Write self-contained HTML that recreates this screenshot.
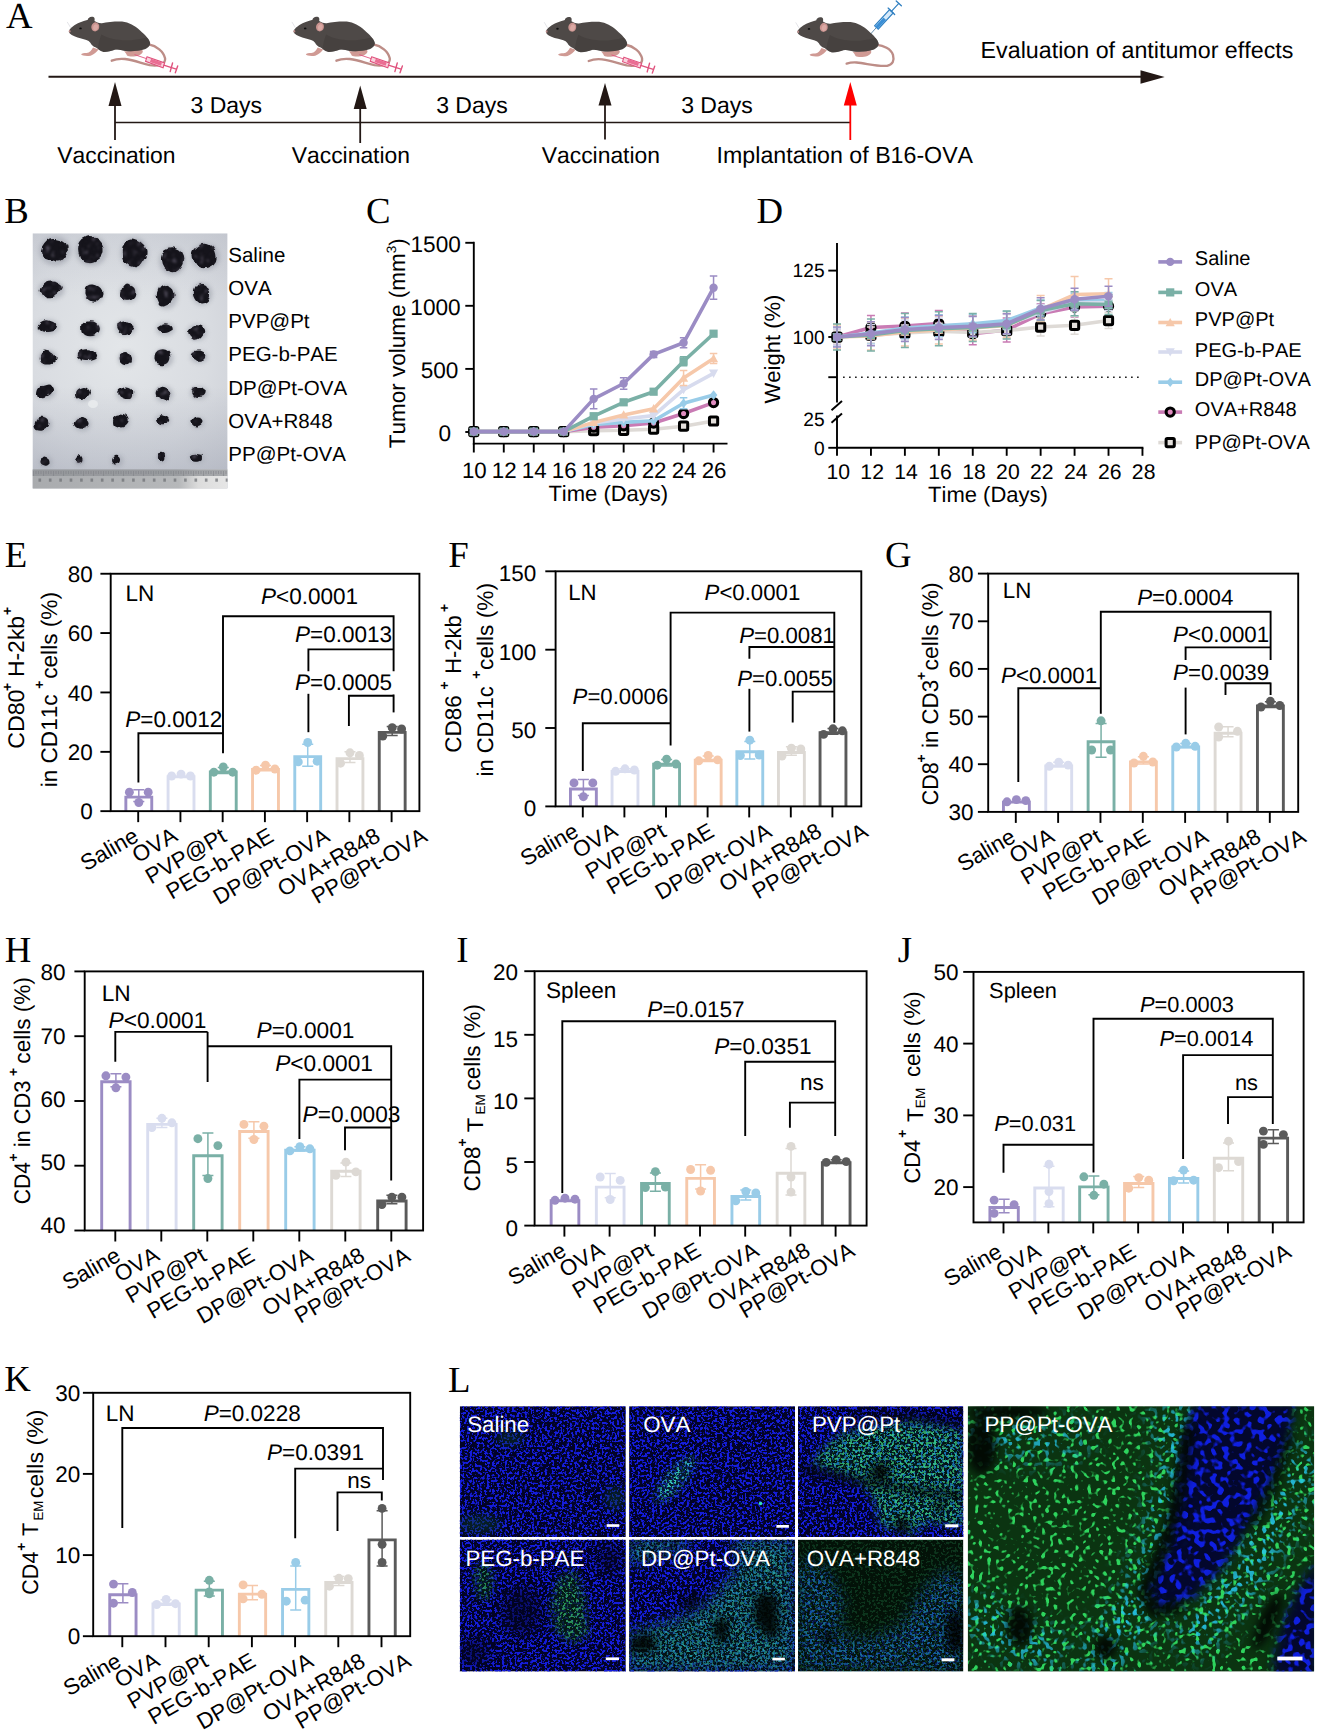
<!DOCTYPE html>
<html lang="en">
<head>
<meta charset="utf-8">
<title>Figure: vaccination schedule and antitumor immune responses</title>
<style>
html,body{margin:0;padding:0;background:#fff;}
body{width:1319px;height:1733px;overflow:hidden;}
svg{display:block;}
text{font-family:"Liberation Sans", Arial, Helvetica, sans-serif;fill:#000;font-kerning:none;text-rendering:geometricPrecision;}
text.lab{font-family:"Liberation Serif", "Times New Roman", Times, serif;}
.it{font-style:italic;}
</style>
</head>
<body>
<svg width="1319" height="1733" viewBox="0 0 1319 1733">
<defs>
<radialGradient id="bgB" cx="0.45" cy="0.45" r="0.75"><stop offset="0" stop-color="#e3e6e9"/><stop offset="0.6" stop-color="#d9dce1"/><stop offset="1" stop-color="#cbced5"/></radialGradient><linearGradient id="rulB" x1="0" x2="1" y1="0" y2="0"><stop offset="0" stop-color="#a9abae"/><stop offset="0.75" stop-color="#b6b8ba"/><stop offset="0.85" stop-color="#dcdcdc"/><stop offset="1" stop-color="#e6e6e6"/></linearGradient><linearGradient id="shB" x1="0" x2="0" y1="0" y2="1"><stop offset="0" stop-color="#7c8296" stop-opacity="0.12"/><stop offset="0.25" stop-color="#7c8296" stop-opacity="0"/><stop offset="0.6" stop-color="#7c8296" stop-opacity="0"/><stop offset="1" stop-color="#7c8296" stop-opacity="0.32"/></linearGradient><filter id="blB" x="-20%" y="-20%" width="140%" height="140%"><feGaussianBlur stdDeviation="0.7"/></filter><filter id="tumB" x="-5%" y="-5%" width="110%" height="110%" color-interpolation-filters="sRGB"><feTurbulence type="fractalNoise" baseFrequency="0.09" numOctaves="2" seed="4" result="n0"/><feTurbulence type="fractalNoise" baseFrequency="0.22" numOctaves="2" seed="8" result="n"/><feDisplacementMap in="SourceGraphic" in2="n0" scale="6" xChannelSelector="R" yChannelSelector="G" result="d"/><feGaussianBlur in="d" stdDeviation="0.75" result="db"/><feColorMatrix in="n" type="matrix" values="0 0 0 0 0.33  0 0 0 0 0.31  0 0 0 0 0.37  0 4 0 0 -2.25" result="hl"/><feComposite in="hl" in2="db" operator="in" result="hl2"/><feGaussianBlur in="hl2" stdDeviation="0.8" result="hl3"/><feMerge><feMergeNode in="db"/><feMergeNode in="hl3"/></feMerge></filter><filter id="blB2" x="-30%" y="-30%" width="160%" height="160%"><feGaussianBlur stdDeviation="2"/></filter><clipPath id="clB"><rect x="32.5" y="233.3" width="195.1" height="255.3"/></clipPath>
<filter id="nB1" x="0" y="0" width="100%" height="100%" color-interpolation-filters="sRGB"><feTurbulence type="fractalNoise" baseFrequency="0.4" numOctaves="2" seed="3"/><feGaussianBlur stdDeviation="0.55"/><feColorMatrix type="matrix" values="0 0 0 0 0.09  0 0 0 0 0.12  0 0 0 0 0.9  13 0 0 0 -6.6"/><feGaussianBlur stdDeviation="0.4"/></filter>
<filter id="nB2" x="0" y="0" width="100%" height="100%" color-interpolation-filters="sRGB"><feTurbulence type="fractalNoise" baseFrequency="0.4" numOctaves="2" seed="11"/><feGaussianBlur stdDeviation="0.55"/><feColorMatrix type="matrix" values="0 0 0 0 0.09  0 0 0 0 0.12  0 0 0 0 0.9  13 0 0 0 -6.6"/><feGaussianBlur stdDeviation="0.4"/></filter>
<filter id="nG1" x="0" y="0" width="100%" height="100%" color-interpolation-filters="sRGB"><feTurbulence type="fractalNoise" baseFrequency="0.38" numOctaves="2" seed="5"/><feGaussianBlur stdDeviation="0.55"/><feColorMatrix type="matrix" values="0 0 0 0 0.25  0 0 0 0 0.85  0 0 0 0 0.5  13 0 0 0 -7.0"/><feGaussianBlur stdDeviation="0.4"/></filter>
<filter id="nG2" x="0" y="0" width="100%" height="100%" color-interpolation-filters="sRGB"><feTurbulence type="fractalNoise" baseFrequency="0.4" numOctaves="2" seed="17"/><feGaussianBlur stdDeviation="0.55"/><feColorMatrix type="matrix" values="0 0 0 0 0.22  0 0 0 0 0.82  0 0 0 0 0.72  13 0 0 0 -6.95"/><feGaussianBlur stdDeviation="0.4"/></filter>
<filter id="nC1" x="0" y="0" width="100%" height="100%" color-interpolation-filters="sRGB"><feTurbulence type="fractalNoise" baseFrequency="0.38" numOctaves="2" seed="23"/><feGaussianBlur stdDeviation="0.55"/><feColorMatrix type="matrix" values="0 0 0 0 0.12  0 0 0 0 0.58  0 0 0 0 0.9  13 0 0 0 -6.9"/><feGaussianBlur stdDeviation="0.4"/></filter>
<filter id="nBb" x="0" y="0" width="100%" height="100%" color-interpolation-filters="sRGB"><feTurbulence type="fractalNoise" baseFrequency="0.17" numOctaves="2" seed="7"/><feGaussianBlur stdDeviation="1.0"/><feColorMatrix type="matrix" values="0 0 0 0 0.06  0 0 0 0 0.12  0 0 0 0 0.88  12 0 0 0 -6.1"/><feGaussianBlur stdDeviation="0.6"/></filter>
<filter id="nGb" x="0" y="0" width="100%" height="100%" color-interpolation-filters="sRGB"><feTurbulence type="fractalNoise" baseFrequency="0.24" numOctaves="2" seed="9"/><feGaussianBlur stdDeviation="0.8"/><feColorMatrix type="matrix" values="0 0 0 0 0.2  0 0 0 0 0.9  0 0 0 0 0.4  13 0 0 0 -7.1"/><feGaussianBlur stdDeviation="0.5"/></filter>
<filter id="nCb" x="0" y="0" width="100%" height="100%" color-interpolation-filters="sRGB"><feTurbulence type="fractalNoise" baseFrequency="0.24" numOctaves="2" seed="29"/><feGaussianBlur stdDeviation="0.8"/><feColorMatrix type="matrix" values="0 0 0 0 0.15  0 0 0 0 0.78  0 0 0 0 0.92  13 0 0 0 -6.85"/><feGaussianBlur stdDeviation="0.5"/></filter>
<filter id="bl4" x="-30%" y="-30%" width="160%" height="160%"><feGaussianBlur stdDeviation="4"/></filter>
<filter id="bl7" x="-30%" y="-30%" width="160%" height="160%"><feGaussianBlur stdDeviation="7"/></filter>
<filter id="bl12" x="-30%" y="-30%" width="160%" height="160%"><feGaussianBlur stdDeviation="12"/></filter>
<clipPath id="cl_sal"><rect x="459.8" y="1406.2" width="166" height="130.8"/></clipPath>
<clipPath id="cl_ova"><rect x="629.1" y="1406.2" width="165.9" height="130.8"/></clipPath>
<clipPath id="cl_pvp"><rect x="798" y="1406.2" width="165.4" height="130.8"/></clipPath>
<clipPath id="cl_peg"><rect x="459.8" y="1539.6" width="166" height="132"/></clipPath>
<clipPath id="cl_dp"><rect x="629.1" y="1539.6" width="165.9" height="132"/></clipPath>
<clipPath id="cl_r848"><rect x="798" y="1539.6" width="165.4" height="132"/></clipPath>
<clipPath id="cl_pp"><rect x="967.7" y="1406.2" width="346.6" height="265.4"/></clipPath>
<g id="mousebody">
<path d="M900 400 C980 415 1050 470 1066 540 C1075 600 1000 625 910 610 C820 590 760 560 660 548 C610 543 560 550 525 565" stroke="#bd8d87" stroke-width="24" fill="none" stroke-linecap="round"/>
<path d="M335 430 C320 460 300 482 270 486 C245 486 220 488 214 500 C220 515 270 520 310 514 C345 505 375 475 390 452 Z" fill="#d09a94"/>
<path d="M650 470 C700 470 780 462 830 452 C850 470 840 495 800 512 C760 525 700 525 680 512 C672 495 665 485 650 470 Z" fill="#d09a94"/>
<path d="M92 262 C100 235 150 200 200 178 C240 160 265 158 282 150 C285 128 310 112 340 122 C355 130 352 150 350 162 C380 178 400 186 425 184 C480 172 560 166 630 168 C700 176 760 212 810 255 C860 300 905 340 915 385 C915 420 880 445 850 452 C800 468 720 474 660 466 C620 458 590 446 560 452 C520 466 470 482 440 476 C400 466 385 445 365 432 C335 425 318 400 308 382 C290 358 250 348 215 340 C165 328 120 310 100 290 C92 280 90 272 92 262 Z" fill="#4e4947"/>
<path d="M420 300 C520 360 700 380 880 330 C905 350 915 375 912 395 C890 440 820 465 720 470 C620 465 600 440 540 458 C470 480 420 475 385 445 C390 400 400 350 420 300 Z" fill="#3f3b39" opacity="0.55"/>
<ellipse cx="358" cy="222" rx="40" ry="46" fill="#c9938f" transform="rotate(12 358 222)"/>
<ellipse cx="362" cy="226" rx="24" ry="32" fill="#dba9a4" transform="rotate(12 358 222)"/>
<ellipse cx="208" cy="238" rx="13" ry="9" fill="#0d0d0d"/>
<ellipse cx="98" cy="266" rx="9" ry="12" fill="#b98a88"/>
<path d="M75 175 L105 225" stroke="#e4e4e8" stroke-width="10" stroke-linecap="round"/>
</g>
<g id="syr_pink" stroke="#e0527d" fill="none" stroke-linecap="round">
<path d="M760 505 L880 545" stroke-width="9"/>
<path d="M882 526 L1062 588 L1046 636 L868 572 Z" stroke-width="11" fill="#f9d3de"/>
<path d="M925 546 L1035 584 L1024 616 L912 578 Z" stroke="none" fill="#ea6e93"/>
<path d="M1052 610 L1180 650" stroke-width="13"/>
<path d="M1142 588 L1118 676" stroke-width="14"/>
<path d="M1194 618 L1170 688" stroke-width="14"/>
</g>
<g id="mousebody_notail">
<path d="M335 430 C320 460 300 482 270 486 C245 486 220 488 214 500 C220 515 270 520 310 514 C345 505 375 475 390 452 Z" fill="#d09a94"/>
<path d="M650 470 C700 470 780 462 830 452 C850 470 840 495 800 512 C760 525 700 525 680 512 C672 495 665 485 650 470 Z" fill="#d09a94"/>
<path d="M92 262 C100 235 150 200 200 178 C240 160 265 158 282 150 C285 128 310 112 340 122 C355 130 352 150 350 162 C380 178 400 186 425 184 C480 172 560 166 630 168 C700 176 760 212 810 255 C860 300 905 340 915 385 C915 420 880 445 850 452 C800 468 720 474 660 466 C620 458 590 446 560 452 C520 466 470 482 440 476 C400 466 385 445 365 432 C335 425 318 400 308 382 C290 358 250 348 215 340 C165 328 120 310 100 290 C92 280 90 272 92 262 Z" fill="#4e4947"/>
<path d="M420 300 C520 360 700 380 880 330 C905 350 915 375 912 395 C890 440 820 465 720 470 C620 465 600 440 540 458 C470 480 420 475 385 445 C390 400 400 350 420 300 Z" fill="#3f3b39" opacity="0.55"/>
<ellipse cx="358" cy="222" rx="40" ry="46" fill="#c9938f" transform="rotate(12 358 222)"/>
<ellipse cx="362" cy="226" rx="24" ry="32" fill="#dba9a4" transform="rotate(12 358 222)"/>
<ellipse cx="208" cy="238" rx="13" ry="9" fill="#0d0d0d"/>
<ellipse cx="98" cy="266" rx="9" ry="12" fill="#b98a88"/>
<path d="M75 175 L105 225" stroke="#e4e4e8" stroke-width="10" stroke-linecap="round"/>
</g>
</defs>
<rect width="1319" height="1733" fill="#fff"/>
<text x="6" y="28.3" font-size="36.8" class="lab">A</text>
<line x1="48.5" y1="76.7" x2="1142" y2="76.7" stroke="#231815" stroke-width="1.9"/>
<path d="M1164.7 77 L1140.5 70.2 L1140.5 83.8 Z" fill="#231815"/>
<line x1="115" y1="122.5" x2="850.2" y2="122.5" stroke="#231815" stroke-width="1.7"/>
<path d="M115 82 L108.5 106 L121.5 106 Z" fill="#231815"/><line x1="115" y1="105" x2="115" y2="140" stroke="#231815" stroke-width="1.8"/>
<path d="M360.2 85.5 L353.7 109 L366.7 109 Z" fill="#231815"/><line x1="360.2" y1="108" x2="360.2" y2="143" stroke="#231815" stroke-width="1.8"/>
<path d="M605 83 L598.5 105.5 L611.5 105.5 Z" fill="#231815"/><line x1="605" y1="104.5" x2="605" y2="139.5" stroke="#231815" stroke-width="1.8"/>
<path d="M850.3 82 L843.8 105.5 L856.8 105.5 Z" fill="#ff0000"/><line x1="850.3" y1="104.5" x2="850.3" y2="140" stroke="#ff0000" stroke-width="1.8"/>
<text x="190.5" y="113" font-size="23">3 Days</text>
<text x="436.2" y="113" font-size="23">3 Days</text>
<text x="681.2" y="113" font-size="23">3 Days</text>
<text x="57.2" y="162.7" font-size="22.9">Vaccination</text>
<text x="291.7" y="162.7" font-size="22.9">Vaccination</text>
<text x="541.7" y="162.7" font-size="22.9">Vaccination</text>
<text x="716.6" y="162.7" font-size="23.2">Implantation of B16-OVA</text>
<text x="980.6" y="57.7" font-size="23.25">Evaluation of antitumor effects</text>
<g transform="translate(60 5) scale(0.09856)"><use href="#mousebody"/><use href="#syr_pink"/></g>
<g transform="translate(284.7 5) scale(0.09856)"><use href="#mousebody"/><use href="#syr_pink"/></g>
<g transform="translate(537 5.3) scale(0.09856)"><use href="#mousebody"/><use href="#syr_pink"/></g>
<g transform="translate(788.5 5.5) scale(0.09856)"><g stroke="#2f7fc1" fill="none" stroke-linecap="round"><path d="M790 338 L892 223" stroke-width="8" stroke="#3f6f95"/><path d="M873.7 206 L910.3 240 L1062.3 76 L1025.7 42 Z" stroke-width="11" fill="#d6eafa"/><path d="M880 212 L905 236 L990 146 L964 122 Z" stroke="none" fill="#3b8fd6"/><path d="M1011 26 L1077 92" stroke-width="13"/><path d="M1044 59 L1119 -22" stroke-width="12"/><path d="M1093 -46 L1145 2" stroke-width="13"/></g><path d="M900 400 C960 405 1040 440 1060 500 C1075 560 1060 600 1000 612 C900 620 800 590 690 578 C650 575 620 580 590 590" stroke="#bd8d87" stroke-width="24" fill="none" stroke-linecap="round"/><use href="#mousebody_notail"/></g>
<text x="4.2" y="223.3" font-size="36.8" class="lab">B</text>
<g clip-path="url(#clB)">
<rect x="32.5" y="233.3" width="195.1" height="255.3" fill="url(#bgB)"/>
<rect x="32.5" y="233.3" width="195.1" height="255.3" fill="url(#shB)"/>
<rect x="32.5" y="469.5" width="195.1" height="19.5" fill="url(#rulB)"/>
<rect x="32.5" y="469.5" width="195.1" height="6.5" fill="#8f9296" opacity="0.75"/>
<path d="M33.5 471V476M36 471V474M38.5 471V474M41 471V474M43.5 471V476M46 471V474M48.5 471V474M51 471V474M53.5 471V476M56 471V474M58.5 471V474M61 471V474M63.5 471V476M66 471V474M68.5 471V474M71 471V474M73.5 471V476M76 471V474M78.5 471V474M81 471V474M83.5 471V476M86 471V474M88.5 471V474M91 471V474M93.5 471V476M96 471V474M98.5 471V474M101 471V474M103.5 471V476M106 471V474M108.5 471V474M111 471V474M113.5 471V476M116 471V474M118.5 471V474M121 471V474M123.5 471V476M126 471V474M128.5 471V474M131 471V474M133.5 471V476M136 471V474M138.5 471V474M141 471V474M143.5 471V476M146 471V474M148.5 471V474M151 471V474M153.5 471V476M156 471V474M158.5 471V474M161 471V474M163.5 471V476M166 471V474M168.5 471V474M171 471V474M173.5 471V476M176 471V474M178.5 471V474M181 471V474M183.5 471V476M186 471V474M188.5 471V474M191 471V474M193.5 471V476M196 471V474M198.5 471V474M201 471V474M203.5 471V476M206 471V474M208.5 471V474M211 471V474M213.5 471V476M216 471V474M218.5 471V474M221 471V474M223.5 471V476M226 471V474M228.5 471V474M231 471V474" stroke="#7d8084" stroke-width="0.7" fill="none" opacity="0.8"/>
<rect x="38.5" y="478.5" width="2.6" height="3.2" fill="#6f7276" opacity="0.75"/>
<rect x="48.9" y="478.5" width="2.6" height="3.2" fill="#6f7276" opacity="0.75"/>
<rect x="59.3" y="478.5" width="2.6" height="3.2" fill="#6f7276" opacity="0.75"/>
<rect x="69.7" y="478.5" width="2.6" height="3.2" fill="#6f7276" opacity="0.75"/>
<rect x="80.1" y="478.5" width="2.6" height="3.2" fill="#6f7276" opacity="0.75"/>
<rect x="90.5" y="478.5" width="2.6" height="3.2" fill="#6f7276" opacity="0.75"/>
<rect x="100.9" y="478.5" width="2.6" height="3.2" fill="#6f7276" opacity="0.75"/>
<rect x="111.3" y="478.5" width="2.6" height="3.2" fill="#6f7276" opacity="0.75"/>
<rect x="121.7" y="478.5" width="2.6" height="3.2" fill="#6f7276" opacity="0.75"/>
<rect x="132.1" y="478.5" width="2.6" height="3.2" fill="#6f7276" opacity="0.75"/>
<rect x="142.5" y="478.5" width="2.6" height="3.2" fill="#6f7276" opacity="0.75"/>
<rect x="152.9" y="478.5" width="2.6" height="3.2" fill="#6f7276" opacity="0.75"/>
<rect x="163.3" y="478.5" width="2.6" height="3.2" fill="#6f7276" opacity="0.75"/>
<rect x="173.7" y="478.5" width="2.6" height="3.2" fill="#6f7276" opacity="0.75"/>
<rect x="184.1" y="478.5" width="2.6" height="3.2" fill="#6f7276" opacity="0.75"/>
<rect x="194.5" y="478.5" width="2.6" height="3.2" fill="#6f7276" opacity="0.75"/>
<rect x="204.9" y="478.5" width="2.6" height="3.2" fill="#6f7276" opacity="0.75"/>
<rect x="215.3" y="478.5" width="2.6" height="3.2" fill="#6f7276" opacity="0.75"/>
<rect x="225.7" y="478.5" width="2.6" height="3.2" fill="#6f7276" opacity="0.75"/>
<g fill="#9a9ea8" opacity="0.55" filter="url(#blB2)">
<ellipse cx="55.2" cy="250.9" rx="15.9" ry="14.5"/>
<ellipse cx="91.4" cy="251.2" rx="15.7" ry="14.9"/>
<ellipse cx="134.4" cy="253.7" rx="13.7" ry="15.9"/>
<ellipse cx="172.4" cy="261.2" rx="13.2" ry="14.2"/>
<ellipse cx="205.3" cy="257" rx="14.5" ry="13.2"/>
<ellipse cx="51.3" cy="289.9" rx="13.2" ry="9.5"/>
<ellipse cx="94.4" cy="294.1" rx="9.9" ry="9.9"/>
<ellipse cx="129" cy="293.2" rx="9.2" ry="9.5"/>
<ellipse cx="166.4" cy="296.6" rx="11.2" ry="12.5"/>
<ellipse cx="202" cy="294.1" rx="10.4" ry="11.2"/>
<ellipse cx="47.7" cy="327.1" rx="11.5" ry="7.5"/>
<ellipse cx="91" cy="329.9" rx="10.4" ry="8.7"/>
<ellipse cx="125.7" cy="328.4" rx="10.4" ry="8.2"/>
<ellipse cx="165.4" cy="329.1" rx="9.5" ry="6.7"/>
<ellipse cx="197" cy="332.4" rx="9.9" ry="8.2"/>
<ellipse cx="48" cy="358.2" rx="9.5" ry="8.2"/>
<ellipse cx="88" cy="356.2" rx="10.9" ry="7.5"/>
<ellipse cx="126.4" cy="359.2" rx="8.2" ry="7.9"/>
<ellipse cx="163.6" cy="358.5" rx="9.9" ry="9.2"/>
<ellipse cx="199.1" cy="357.2" rx="8.7" ry="6.2"/>
<ellipse cx="45.5" cy="391.7" rx="10.4" ry="7.9"/>
<ellipse cx="83.2" cy="393.8" rx="8.4" ry="7.2"/>
<ellipse cx="126.1" cy="393.8" rx="9.9" ry="7"/>
<ellipse cx="164" cy="394.2" rx="9.2" ry="8.2"/>
<ellipse cx="199.1" cy="393" rx="9" ry="6.5"/>
<ellipse cx="42.3" cy="424.7" rx="9.5" ry="7.9"/>
<ellipse cx="82.4" cy="424.2" rx="8.2" ry="7"/>
<ellipse cx="121.4" cy="421.9" rx="8.2" ry="7.9"/>
<ellipse cx="162.8" cy="420.2" rx="7.5" ry="6.2"/>
<ellipse cx="197.3" cy="422.5" rx="7" ry="5.4"/>
<ellipse cx="46" cy="462.2" rx="5.9" ry="5.9"/>
<ellipse cx="79.4" cy="460.5" rx="4.9" ry="5.7"/>
<ellipse cx="117.2" cy="460.9" rx="5.9" ry="6.2"/>
<ellipse cx="161.9" cy="458.4" rx="4.9" ry="4.9"/>
<ellipse cx="197" cy="458.1" rx="7.4" ry="4.9"/>
</g>
<g fill="#15141b" filter="url(#tumB)" transform="translate(0.3 0.3)">
<path transform="translate(54.2 249.7) rotate(0)" d="M12.89 -3.85Q14.08 0 12.49 3.58Q10.9 7.16 7.8 10.13Q4.71 13.11 0.32 12.23Q-4.08 11.35 -8.04 9.62Q-11.99 7.88 -13.11 3.94Q-14.23 0 -12.43 -3.49Q-10.63 -6.99 -7.59 -9.83Q-4.55 -12.67 -0.26 -11.96Q4.04 -11.24 7.87 -9.47Q11.7 -7.69 12.89 -3.85Z"/>
<path transform="translate(90.4 250) rotate(20)" d="M12.22 -3.93Q13 0 11.79 3.63Q10.58 7.26 7.49 10.03Q4.4 12.79 -0.22 13.42Q-4.83 14.05 -7.75 10.69Q-10.67 7.33 -12.1 3.66Q-13.54 0 -12.81 -4.15Q-12.09 -8.3 -8.53 -11.36Q-4.96 -14.43 -0.2 -13.85Q4.56 -13.27 8 -10.56Q11.44 -7.85 12.22 -3.93Z"/>
<path transform="translate(133.4 252.5) rotate(0)" d="M12.12 -4.4Q13.93 0 11.47 3.85Q9.01 7.7 6.6 11.44Q4.2 15.18 0.26 14.23Q-3.67 13.27 -6.46 10.59Q-9.25 7.9 -10.3 3.95Q-11.35 0 -10.5 -4.12Q-9.65 -8.24 -6.9 -11.64Q-4.16 -15.04 -0.29 -13.98Q3.57 -12.91 6.94 -10.86Q10.31 -8.81 12.12 -4.4Z"/>
<path transform="translate(171.4 260) rotate(0)" d="M11.15 -3.9Q12.4 0 10.91 3.7Q9.41 7.41 6.58 9.96Q3.75 12.51 0.22 11.79Q-3.32 11.07 -6 8.95Q-8.68 6.83 -9.92 3.42Q-11.15 0 -10.64 -3.99Q-10.13 -7.97 -6.89 -10.06Q-3.64 -12.15 -0.05 -11.98Q3.54 -11.81 6.73 -9.81Q9.91 -7.8 11.15 -3.9Z"/>
<path transform="translate(204.3 255.8) rotate(25)" d="M11.68 -3.35Q13.15 0 11.7 3.36Q10.24 6.71 7.32 9.47Q4.4 12.22 0.05 12.09Q-4.31 11.96 -7.2 9.29Q-10.1 6.62 -11.82 3.31Q-13.54 0 -12.18 -3.55Q-10.82 -7.1 -7.65 -9.77Q-4.48 -12.44 -0.07 -12.24Q4.34 -12.04 7.27 -9.37Q10.21 -6.69 11.68 -3.35Z"/>
<path transform="translate(50.3 288.7) rotate(-10)" d="M11.63 -2.48Q13.38 0 11.1 2.22Q8.82 4.43 6.23 6.09Q3.64 7.74 -0.15 8.06Q-3.94 8.38 -6.42 6.43Q-8.9 4.47 -10.43 2.24Q-11.97 0 -10.3 -2.17Q-8.63 -4.34 -6.25 -6.28Q-3.86 -8.21 0.04 -8.3Q3.94 -8.39 6.91 -6.68Q9.88 -4.96 11.63 -2.48Z"/>
<path transform="translate(93.4 292.9) rotate(0)" d="M8.4 -2.66Q9.48 0 8.1 2.44Q6.72 4.89 4.77 6.77Q2.81 8.66 0.03 8.56Q-2.75 8.46 -4.96 6.84Q-7.17 5.21 -7.89 2.61Q-8.61 0 -8.11 -2.77Q-7.61 -5.53 -5.29 -7.34Q-2.98 -9.16 -0.15 -8.69Q2.67 -8.22 4.99 -6.77Q7.32 -5.32 8.4 -2.66Z"/>
<path transform="translate(128 292) rotate(0)" d="M6.78 -2.42Q7.16 0 6.97 2.56Q6.79 5.11 4.67 6.64Q2.56 8.17 -0.1 8.5Q-2.76 8.83 -4.87 7.04Q-6.97 5.26 -7.28 2.63Q-7.59 0 -6.94 -2.37Q-6.29 -4.74 -4.43 -6.48Q-2.57 -8.21 -0.19 -7.6Q2.19 -6.99 4.3 -5.91Q6.41 -4.83 6.78 -2.42Z"/>
<path transform="translate(165.4 295.4) rotate(0)" d="M8.6 -3.28Q9.2 0 8.28 3.02Q7.35 6.03 5.05 7.82Q2.76 9.61 -0.26 10.52Q-3.29 11.44 -5.33 8.74Q-7.37 6.05 -8.38 3.03Q-9.39 0 -8.64 -3.23Q-7.88 -6.47 -5.62 -9.09Q-3.37 -11.7 -0.29 -10.69Q2.78 -9.67 5.39 -8.11Q7.99 -6.56 8.6 -3.28Z"/>
<path transform="translate(201 292.9) rotate(0)" d="M8.06 -2.69Q9.31 0 8.72 3.21Q8.13 6.42 5.59 8.33Q3.06 10.24 -0.02 10.29Q-3.09 10.34 -5.07 7.95Q-7.05 5.57 -8.03 2.78Q-9.01 0 -8.1 -2.84Q-7.19 -5.68 -5.15 -8.03Q-3.11 -10.39 0.03 -10.47Q3.16 -10.56 4.99 -7.97Q6.82 -5.39 8.06 -2.69Z"/>
<path transform="translate(46.7 325.9) rotate(5)" d="M8.98 -1.88Q9.5 0 8.65 1.73Q7.8 3.46 5.39 4.54Q2.98 5.61 -0.1 5.79Q-3.17 5.97 -5.84 4.88Q-8.51 3.78 -9.11 1.89Q-9.71 0 -8.53 -1.63Q-7.34 -3.26 -5.23 -4.57Q-3.12 -5.88 -0.02 -5.84Q3.08 -5.8 5.77 -4.78Q8.47 -3.76 8.98 -1.88Z"/>
<path transform="translate(90 328.7) rotate(0)" d="M9.09 -2.36Q10.2 0 8.99 2.3Q7.78 4.61 5.32 5.88Q2.85 7.16 -0.03 7.25Q-2.92 7.33 -5.34 5.96Q-7.76 4.59 -7.99 2.3Q-8.22 0 -8.19 -2.42Q-8.16 -4.83 -5.6 -6.22Q-3.03 -7.61 0.03 -7.69Q3.1 -7.77 5.54 -6.25Q7.98 -4.72 9.09 -2.36Z"/>
<path transform="translate(124.7 327.2) rotate(0)" d="M7.8 -1.84Q8.96 0 8.11 2.01Q7.26 4.01 4.92 5.02Q2.57 6.02 -0.18 6.45Q-2.93 6.87 -4.8 5.28Q-6.66 3.68 -7.45 1.84Q-8.24 0 -7.58 -1.91Q-6.92 -3.83 -4.77 -4.97Q-2.61 -6.12 0.06 -6.26Q2.73 -6.4 4.69 -5.04Q6.64 -3.67 7.8 -1.84Z"/>
<path transform="translate(164.4 327.9) rotate(0)" d="M6.89 -1.56Q7.3 0 6.73 1.48Q6.15 2.96 4.24 3.85Q2.32 4.73 -0.08 4.9Q-2.48 5.06 -4.22 3.96Q-5.95 2.86 -7.5 1.43Q-9.05 0 -7.97 -1.66Q-6.9 -3.32 -4.62 -4.06Q-2.35 -4.79 0.03 -4.85Q2.41 -4.92 4.44 -4.02Q6.47 -3.11 6.89 -1.56Z"/>
<path transform="translate(196 331.2) rotate(0)" d="M7.53 -1.94Q8.42 0 7.41 1.87Q6.4 3.74 4.66 5.48Q2.91 7.21 -0.05 7.33Q-3.01 7.45 -4.99 5.76Q-6.98 4.08 -7.82 2.04Q-8.67 0 -7.5 -1.85Q-6.34 -3.71 -4.39 -4.86Q-2.43 -6.02 0.08 -6.21Q2.59 -6.41 4.61 -5.14Q6.64 -3.88 7.53 -1.94Z"/>
<path transform="translate(47 357) rotate(30)" d="M8.22 -2.29Q8.96 0 7.56 1.89Q6.17 3.78 4.22 4.84Q2.27 5.9 -0.29 6.64Q-2.84 7.38 -4.8 5.76Q-6.76 4.14 -7.18 2.07Q-7.6 0 -7.19 -2.08Q-6.78 -4.16 -4.53 -5.03Q-2.27 -5.9 0.15 -6.3Q2.58 -6.7 5.03 -5.64Q7.49 -4.59 8.22 -2.29Z"/>
<path transform="translate(87 355) rotate(0)" d="M8.94 -1.73Q10.55 0 9.38 1.94Q8.22 3.88 5.52 4.76Q2.83 5.65 -0.04 5.72Q-2.9 5.8 -5.06 4.6Q-7.22 3.41 -8.78 1.7Q-10.33 0 -9.12 -1.87Q-7.91 -3.73 -5.55 -5.06Q-3.2 -6.39 -0.16 -6.07Q2.87 -5.75 5.1 -4.6Q7.33 -3.46 8.94 -1.73Z"/>
<path transform="translate(125.4 358) rotate(30)" d="M6.27 -1.75Q7.52 0 6.92 2.2Q6.32 4.4 4.33 5.65Q2.35 6.91 0.01 6.88Q-2.32 6.84 -4.21 5.54Q-6.1 4.24 -6.75 2.12Q-7.4 0 -6.35 -1.84Q-5.29 -3.68 -3.73 -5.04Q-2.17 -6.4 -0.04 -6.28Q2.09 -6.15 3.56 -4.82Q5.02 -3.49 6.27 -1.75Z"/>
<path transform="translate(162.6 357.3) rotate(0)" d="M7.26 -2.27Q7.71 0 7.19 2.23Q6.67 4.45 4.6 5.81Q2.53 7.17 -0.14 7.56Q-2.81 7.96 -5.31 6.59Q-7.81 5.22 -8.2 2.61Q-8.59 0 -8.18 -2.6Q-7.78 -5.2 -5.39 -6.85Q-3 -8.5 -0.01 -8.47Q2.98 -8.44 4.9 -6.49Q6.81 -4.55 7.26 -2.27Z"/>
<path transform="translate(198.1 356) rotate(10)" d="M6.75 -1.58Q7 0 6.33 1.37Q5.67 2.75 3.91 3.58Q2.15 4.41 0 4.41Q-2.15 4.42 -4.2 3.72Q-6.25 3.03 -7.23 1.51Q-8.22 0 -7.39 -1.59Q-6.56 -3.18 -4.43 -3.96Q-2.31 -4.73 0.05 -4.83Q2.4 -4.93 4.45 -4.04Q6.5 -3.15 6.75 -1.58Z"/>
<path transform="translate(44.5 390.5) rotate(-30)" d="M8.13 -2.11Q8.28 0 8.01 2.04Q7.73 4.09 5.43 5.54Q3.12 7 0.04 6.9Q-3.04 6.8 -5.46 5.49Q-7.89 4.17 -8.52 2.09Q-9.15 0 -8.01 -1.82Q-6.87 -3.63 -4.95 -5.22Q-3.04 -6.81 -0.16 -6.47Q2.73 -6.12 5.35 -5.17Q7.98 -4.22 8.13 -2.11Z"/>
<path transform="translate(82.2 392.6) rotate(0)" d="M7.13 -1.89Q8.02 0 6.85 1.72Q5.68 3.44 3.93 4.5Q2.17 5.57 -0.15 5.94Q-2.46 6.32 -4.3 5.02Q-6.14 3.72 -6.38 1.86Q-6.63 0 -5.97 -1.61Q-5.3 -3.21 -3.67 -4.22Q-2.04 -5.23 0.2 -5.74Q2.44 -6.26 4.35 -5.02Q6.25 -3.79 7.13 -1.89Z"/>
<path transform="translate(125.1 392.6) rotate(10)" d="M7.63 -1.77Q7.96 0 7.78 1.84Q7.59 3.68 5.29 4.91Q3 6.15 0.1 5.94Q-2.79 5.72 -4.79 4.51Q-6.79 3.29 -7.79 1.64Q-8.8 0 -7.61 -1.55Q-6.42 -3.11 -4.4 -3.99Q-2.38 -4.87 0.31 -5.51Q2.99 -6.14 5.14 -4.84Q7.29 -3.53 7.63 -1.77Z"/>
<path transform="translate(163 393) rotate(35)" d="M7.33 -2.1Q8.05 0 7.6 2.27Q7.15 4.54 4.79 5.55Q2.43 6.55 -0.13 6.9Q-2.69 7.25 -4.84 5.84Q-6.98 4.44 -7.21 2.22Q-7.45 0 -6.77 -1.93Q-6.09 -3.87 -4.22 -5.1Q-2.35 -6.33 -0.02 -6.28Q2.32 -6.24 4.46 -5.22Q6.61 -4.2 7.33 -2.1Z"/>
<path transform="translate(198.1 391.8) rotate(10)" d="M7.15 -1.71Q7.35 0 6.77 1.53Q6.19 3.05 4.19 3.82Q2.2 4.59 -0.23 5.07Q-2.65 5.54 -4.37 4.27Q-6.09 3.01 -6.91 1.5Q-7.72 0 -7.08 -1.59Q-6.44 -3.18 -4.54 -4.35Q-2.64 -5.53 -0.14 -5.24Q2.36 -4.94 4.65 -4.19Q6.94 -3.43 7.15 -1.71Z"/>
<path transform="translate(41.3 423.5) rotate(-15)" d="M7.49 -1.96Q8.3 0 7.53 1.98Q6.77 3.97 4.67 5.19Q2.58 6.41 0.16 6.02Q-2.27 5.64 -4.44 4.76Q-6.62 3.88 -7.14 1.94Q-7.67 0 -6.79 -1.73Q-5.92 -3.47 -4.33 -5.15Q-2.75 -6.83 -0.19 -6.35Q2.36 -5.87 4.52 -4.89Q6.67 -3.91 7.49 -1.96Z"/>
<path transform="translate(81.4 423) rotate(0)" d="M6.37 -1.61Q7.38 0 6.56 1.73Q5.74 3.46 3.91 4.37Q2.07 5.29 -0.05 5.41Q-2.17 5.54 -3.96 4.5Q-5.74 3.45 -6.61 1.73Q-7.48 0 -6.3 -1.54Q-5.13 -3.09 -3.66 -4.34Q-2.19 -5.6 -0.08 -5.39Q2.03 -5.18 3.7 -4.2Q5.36 -3.23 6.37 -1.61Z"/>
<path transform="translate(120.4 420.7) rotate(0)" d="M6.69 -2.06Q7.46 0 6.57 1.97Q5.67 3.95 3.93 5.21Q2.2 6.47 -0.05 6.62Q-2.3 6.77 -4.26 5.55Q-6.22 4.33 -6.56 2.16Q-6.9 0 -6.36 -2.02Q-5.82 -4.04 -3.99 -5.21Q-2.17 -6.38 0 -6.39Q2.17 -6.39 4.05 -5.26Q5.93 -4.12 6.69 -2.06Z"/>
<path transform="translate(161.8 419) rotate(25)" d="M5.93 -1.63Q6.23 0 5.68 1.48Q5.14 2.96 3.54 3.85Q1.94 4.73 -0.11 4.99Q-2.15 5.26 -3.75 4.17Q-5.34 3.08 -6.1 1.54Q-6.87 0 -6.25 -1.63Q-5.64 -3.25 -3.74 -3.87Q-1.83 -4.48 0.07 -4.65Q1.97 -4.82 3.81 -4.04Q5.64 -3.25 5.93 -1.63Z"/>
<path transform="translate(196.3 421.3) rotate(0)" d="M5.71 -1.35Q6.27 0 5.28 1.13Q4.28 2.25 2.96 2.94Q1.63 3.63 -0.07 3.79Q-1.77 3.94 -2.99 3.08Q-4.21 2.22 -4.82 1.11Q-5.44 0 -4.83 -1.11Q-4.21 -2.22 -3.04 -3.19Q-1.87 -4.16 0.02 -4.21Q1.91 -4.27 3.53 -3.49Q5.14 -2.7 5.71 -1.35Z"/>
<path transform="translate(45 461) rotate(0)" d="M4.05 -1.38Q4.31 0 4.15 1.45Q4 2.91 2.75 3.77Q1.51 4.64 0.09 4.36Q-1.33 4.09 -2.74 3.55Q-4.15 3.02 -4.69 1.51Q-5.23 0 -4.39 -1.29Q-3.55 -2.58 -2.58 -3.77Q-1.61 -4.96 -0.1 -4.66Q1.42 -4.36 2.6 -3.56Q3.79 -2.75 4.05 -1.38Z"/>
<path transform="translate(78.4 459.3) rotate(0)" d="M3.39 -1.17Q4.14 0 3.68 1.43Q3.23 2.86 2.14 3.39Q1.05 3.93 -0.04 4.07Q-1.12 4.21 -2.06 3.43Q-3 2.65 -3.28 1.33Q-3.56 0 -3.17 -1.23Q-2.77 -2.45 -1.93 -3.27Q-1.09 -4.09 0.06 -4.3Q1.2 -4.51 1.93 -3.42Q2.65 -2.34 3.39 -1.17Z"/>
<path transform="translate(116.2 459.7) rotate(0)" d="M4.5 -1.64Q4.76 0 4.25 1.45Q3.75 2.9 2.52 3.55Q1.28 4.21 -0.05 4.38Q-1.39 4.56 -2.65 3.79Q-3.92 3.03 -4.31 1.51Q-4.71 0 -4.06 -1.32Q-3.4 -2.63 -2.51 -3.97Q-1.62 -5.31 -0.03 -5.2Q1.55 -5.08 2.89 -4.18Q4.23 -3.27 4.5 -1.64Z"/>
<path transform="translate(160.9 457.2) rotate(0)" d="M3.08 -1.02Q3.35 0 3.09 1.03Q2.82 2.05 1.92 2.59Q1.02 3.13 -0.1 3.44Q-1.22 3.75 -2.02 2.9Q-2.83 2.05 -3.1 1.03Q-3.37 0 -3.15 -1.07Q-2.94 -2.13 -2.1 -3Q-1.26 -3.87 -0.01 -3.83Q1.23 -3.79 2.03 -2.92Q2.82 -2.05 3.08 -1.02Z"/>
<path transform="translate(196 456.9) rotate(0)" d="M5.61 -1.2Q5.68 0 5.6 1.2Q5.52 2.39 3.73 2.99Q1.95 3.58 -0.03 3.63Q-2.01 3.69 -3.26 2.82Q-4.52 1.96 -5.03 0.98Q-5.54 0 -5.39 -1.14Q-5.24 -2.27 -3.56 -2.86Q-1.88 -3.46 -0.08 -3.31Q1.72 -3.16 3.63 -2.78Q5.54 -2.4 5.61 -1.2Z"/>
</g>
<ellipse cx="93" cy="404" rx="5" ry="4" fill="#eceef0" opacity="0.8" filter="url(#blB)"/>
</g>
<text x="228.3" y="261.7" font-size="20.5">Saline</text>
<text x="228.3" y="294.8" font-size="20.5">OVA</text>
<text x="228.3" y="328.1" font-size="20.5">PVP@Pt</text>
<text x="228.3" y="361.3" font-size="20.5">PEG-b-PAE</text>
<text x="228.3" y="394.6" font-size="20.5">DP@Pt-OVA</text>
<text x="228.3" y="427.6" font-size="20.5">OVA+R848</text>
<text x="228.3" y="460.9" font-size="20.5">PP@Pt-OVA</text>
<text x="366" y="222.8" font-size="36.8" class="lab">C</text>
<line x1="473.8" y1="241.8" x2="473.8" y2="444.5" stroke="#000" stroke-width="1.9"/>
<line x1="472.9" y1="443.6" x2="727.5" y2="443.6" stroke="#000" stroke-width="1.9"/>
<line x1="465.3" y1="432" x2="473.8" y2="432" stroke="#000" stroke-width="1.9"/>
<text x="451" y="441.3" font-size="22.6" text-anchor="end">0</text>
<line x1="465.3" y1="368.9" x2="473.8" y2="368.9" stroke="#000" stroke-width="1.9"/>
<text x="458.4" y="378.2" font-size="22.6" text-anchor="end">500</text>
<line x1="465.3" y1="305.8" x2="473.8" y2="305.8" stroke="#000" stroke-width="1.9"/>
<text x="460.6" y="315.1" font-size="22.6" text-anchor="end">1000</text>
<line x1="465.3" y1="242.8" x2="473.8" y2="242.8" stroke="#000" stroke-width="1.9"/>
<text x="460.8" y="252.1" font-size="22.6" text-anchor="end">1500</text>
<line x1="473.8" y1="443.6" x2="473.8" y2="452.5" stroke="#000" stroke-width="1.9"/>
<text x="474.3" y="477.7" font-size="22.3" text-anchor="middle">10</text>
<line x1="503.77" y1="443.6" x2="503.77" y2="452.5" stroke="#000" stroke-width="1.9"/>
<text x="504.27" y="477.7" font-size="22.3" text-anchor="middle">12</text>
<line x1="533.74" y1="443.6" x2="533.74" y2="452.5" stroke="#000" stroke-width="1.9"/>
<text x="534.24" y="477.7" font-size="22.3" text-anchor="middle">14</text>
<line x1="563.71" y1="443.6" x2="563.71" y2="452.5" stroke="#000" stroke-width="1.9"/>
<text x="564.21" y="477.7" font-size="22.3" text-anchor="middle">16</text>
<line x1="593.68" y1="443.6" x2="593.68" y2="452.5" stroke="#000" stroke-width="1.9"/>
<text x="594.18" y="477.7" font-size="22.3" text-anchor="middle">18</text>
<line x1="623.65" y1="443.6" x2="623.65" y2="452.5" stroke="#000" stroke-width="1.9"/>
<text x="624.15" y="477.7" font-size="22.3" text-anchor="middle">20</text>
<line x1="653.62" y1="443.6" x2="653.62" y2="452.5" stroke="#000" stroke-width="1.9"/>
<text x="654.12" y="477.7" font-size="22.3" text-anchor="middle">22</text>
<line x1="683.59" y1="443.6" x2="683.59" y2="452.5" stroke="#000" stroke-width="1.9"/>
<text x="684.09" y="477.7" font-size="22.3" text-anchor="middle">24</text>
<line x1="713.56" y1="443.6" x2="713.56" y2="452.5" stroke="#000" stroke-width="1.9"/>
<text x="714.06" y="477.7" font-size="22.3" text-anchor="middle">26</text>
<text x="608.3" y="500.9" font-size="22" text-anchor="middle">Time (Days)</text>
<text font-size="22.5" text-anchor="middle" transform="translate(404.8 343.3) rotate(-90)">Tumor volume (mm<tspan font-size="13.5" dy="-8.5">3</tspan><tspan dy="8.5">)</tspan></text>
<path d="M473.8 431.6 L503.77 431.6 L533.74 431.6 L563.71 431.6 L593.68 430.6 L623.65 430.3 L653.62 429.2 L683.59 426.2 L713.56 421" stroke="#dedad6" stroke-width="3.6" fill="none" stroke-linejoin="round"/>
<rect x="469.7" y="427.5" width="8.2" height="8.2" rx="1.2" fill="#e4e0dc" stroke="#000" stroke-width="3"/>
<rect x="499.67" y="427.5" width="8.2" height="8.2" rx="1.2" fill="#e4e0dc" stroke="#000" stroke-width="3"/>
<rect x="529.64" y="427.5" width="8.2" height="8.2" rx="1.2" fill="#e4e0dc" stroke="#000" stroke-width="3"/>
<rect x="559.61" y="427.5" width="8.2" height="8.2" rx="1.2" fill="#e4e0dc" stroke="#000" stroke-width="3"/>
<rect x="589.58" y="426.5" width="8.2" height="8.2" rx="1.2" fill="#e4e0dc" stroke="#000" stroke-width="3"/>
<rect x="619.55" y="426.2" width="8.2" height="8.2" rx="1.2" fill="#e4e0dc" stroke="#000" stroke-width="3"/>
<rect x="649.52" y="425.1" width="8.2" height="8.2" rx="1.2" fill="#e4e0dc" stroke="#000" stroke-width="3"/>
<rect x="679.49" y="422.1" width="8.2" height="8.2" rx="1.2" fill="#e4e0dc" stroke="#000" stroke-width="3"/>
<rect x="709.46" y="416.9" width="8.2" height="8.2" rx="1.2" fill="#e4e0dc" stroke="#000" stroke-width="3"/>
<path d="M473.8 431.6 L503.77 431.6 L533.74 431.6 L563.71 431.6 L593.68 427.2 L623.65 425.8 L653.62 423 L683.59 413.5 L713.56 402.6" stroke="#c97bb4" stroke-width="3.6" fill="none" stroke-linejoin="round"/>
<circle cx="473.8" cy="431.6" r="4.1" fill="#e08cc0" stroke="#000" stroke-width="3.1"/>
<circle cx="503.77" cy="431.6" r="4.1" fill="#e08cc0" stroke="#000" stroke-width="3.1"/>
<circle cx="533.74" cy="431.6" r="4.1" fill="#e08cc0" stroke="#000" stroke-width="3.1"/>
<circle cx="563.71" cy="431.6" r="4.1" fill="#e08cc0" stroke="#000" stroke-width="3.1"/>
<circle cx="593.68" cy="427.2" r="4.1" fill="#e08cc0" stroke="#000" stroke-width="3.1"/>
<circle cx="623.65" cy="425.8" r="4.1" fill="#e08cc0" stroke="#000" stroke-width="3.1"/>
<circle cx="653.62" cy="423" r="4.1" fill="#e08cc0" stroke="#000" stroke-width="3.1"/>
<circle cx="683.59" cy="413.5" r="4.1" fill="#e08cc0" stroke="#000" stroke-width="3.1"/>
<circle cx="713.56" cy="402.6" r="4.1" fill="#e08cc0" stroke="#000" stroke-width="3.1"/>
<path d="M683.59 397.8V408.8M679.84 397.8H687.34M679.84 408.8H687.34" stroke="#99cce8" stroke-width="1.5" fill="none"/>
<path d="M473.8 431.6 L503.77 431.6 L533.74 431.6 L563.71 431.6 L593.68 424.4 L623.65 422.4 L653.62 420.8 L683.59 403.3 L713.56 395.1" stroke="#99cce8" stroke-width="3.6" fill="none" stroke-linejoin="round"/>
<path d="M473.8 426.8 L477.64 431.6 L473.8 436.4 L469.96 431.6 Z" fill="#99cce8"/>
<path d="M503.77 426.8 L507.61 431.6 L503.77 436.4 L499.93 431.6 Z" fill="#99cce8"/>
<path d="M533.74 426.8 L537.58 431.6 L533.74 436.4 L529.9 431.6 Z" fill="#99cce8"/>
<path d="M563.71 426.8 L567.55 431.6 L563.71 436.4 L559.87 431.6 Z" fill="#99cce8"/>
<path d="M593.68 419.6 L597.52 424.4 L593.68 429.2 L589.84 424.4 Z" fill="#99cce8"/>
<path d="M623.65 417.6 L627.49 422.4 L623.65 427.2 L619.81 422.4 Z" fill="#99cce8"/>
<path d="M653.62 416 L657.46 420.8 L653.62 425.6 L649.78 420.8 Z" fill="#99cce8"/>
<path d="M683.59 398.5 L687.43 403.3 L683.59 408.1 L679.75 403.3 Z" fill="#99cce8"/>
<path d="M713.56 390.3 L717.4 395.1 L713.56 399.9 L709.72 395.1 Z" fill="#99cce8"/>
<path d="M473.8 431.6 L503.77 431.6 L533.74 431.6 L563.71 431.6 L593.68 423 L623.65 419 L653.62 415.6 L683.59 389.6 L713.56 373.3" stroke="#d7dbee" stroke-width="3.6" fill="none" stroke-linejoin="round"/>
<path d="M473.8 436.2 L478.4 427.92 L469.2 427.92 Z" fill="#d7dbee"/>
<path d="M503.77 436.2 L508.37 427.92 L499.17 427.92 Z" fill="#d7dbee"/>
<path d="M533.74 436.2 L538.34 427.92 L529.14 427.92 Z" fill="#d7dbee"/>
<path d="M563.71 436.2 L568.31 427.92 L559.11 427.92 Z" fill="#d7dbee"/>
<path d="M593.68 427.6 L598.28 419.32 L589.08 419.32 Z" fill="#d7dbee"/>
<path d="M623.65 423.6 L628.25 415.32 L619.05 415.32 Z" fill="#d7dbee"/>
<path d="M653.62 420.2 L658.22 411.92 L649.02 411.92 Z" fill="#d7dbee"/>
<path d="M683.59 394.2 L688.19 385.92 L678.99 385.92 Z" fill="#d7dbee"/>
<path d="M713.56 377.9 L718.16 369.62 L708.96 369.62 Z" fill="#d7dbee"/>
<path d="M683.59 370.5V385.5M679.84 370.5H687.34M679.84 385.5H687.34M713.56 353.5V363.5M709.81 353.5H717.31M709.81 363.5H717.31" stroke="#f6c8aa" stroke-width="1.5" fill="none"/>
<path d="M473.8 431.6 L503.77 431.6 L533.74 431.6 L563.71 431.6 L593.68 422.4 L623.65 414.9 L653.62 408.7 L683.59 378 L713.56 358.5" stroke="#f6c8aa" stroke-width="3.6" fill="none" stroke-linejoin="round"/>
<path d="M473.8 427 L478.4 435.28 L469.2 435.28 Z" fill="#f6c8aa"/>
<path d="M503.77 427 L508.37 435.28 L499.17 435.28 Z" fill="#f6c8aa"/>
<path d="M533.74 427 L538.34 435.28 L529.14 435.28 Z" fill="#f6c8aa"/>
<path d="M563.71 427 L568.31 435.28 L559.11 435.28 Z" fill="#f6c8aa"/>
<path d="M593.68 417.8 L598.28 426.08 L589.08 426.08 Z" fill="#f6c8aa"/>
<path d="M623.65 410.3 L628.25 418.58 L619.05 418.58 Z" fill="#f6c8aa"/>
<path d="M653.62 404.1 L658.22 412.38 L649.02 412.38 Z" fill="#f6c8aa"/>
<path d="M683.59 373.4 L688.19 381.68 L678.99 381.68 Z" fill="#f6c8aa"/>
<path d="M713.56 353.9 L718.16 362.18 L708.96 362.18 Z" fill="#f6c8aa"/>
<path d="M683.59 356.8V365.8M679.84 356.8H687.34M679.84 365.8H687.34" stroke="#7ab0a6" stroke-width="1.5" fill="none"/>
<path d="M473.8 431.6 L503.77 431.6 L533.74 431.6 L563.71 431.6 L593.68 416.2 L623.65 402.3 L653.62 391.7 L683.59 361.3 L713.56 333.7" stroke="#7ab0a6" stroke-width="3.6" fill="none" stroke-linejoin="round"/>
<rect x="469.7" y="427.5" width="8.2" height="8.2" fill="#7ab0a6"/>
<rect x="499.67" y="427.5" width="8.2" height="8.2" fill="#7ab0a6"/>
<rect x="529.64" y="427.5" width="8.2" height="8.2" fill="#7ab0a6"/>
<rect x="559.61" y="427.5" width="8.2" height="8.2" fill="#7ab0a6"/>
<rect x="589.58" y="412.1" width="8.2" height="8.2" fill="#7ab0a6"/>
<rect x="619.55" y="398.2" width="8.2" height="8.2" fill="#7ab0a6"/>
<rect x="649.52" y="387.6" width="8.2" height="8.2" fill="#7ab0a6"/>
<rect x="679.49" y="357.2" width="8.2" height="8.2" fill="#7ab0a6"/>
<rect x="709.46" y="329.6" width="8.2" height="8.2" fill="#7ab0a6"/>
<path d="M593.68 389V408.8M589.93 389H597.43M589.93 408.8H597.43M623.65 377.7V389.3M619.9 377.7H627.4M619.9 389.3H627.4M653.62 351.4V357.4M649.87 351.4H657.37M649.87 357.4H657.37M683.59 337.8V347.8M679.84 337.8H687.34M679.84 347.8H687.34M713.56 276.1V299.3M709.81 276.1H717.31M709.81 299.3H717.31" stroke="#9b8cc4" stroke-width="1.5" fill="none"/>
<path d="M473.8 431.6 L503.77 431.6 L533.74 431.6 L563.71 431.6 L593.68 398.9 L623.65 383.5 L653.62 354.4 L683.59 342.8 L713.56 287.7" stroke="#9b8cc4" stroke-width="3.6" fill="none" stroke-linejoin="round"/>
<circle cx="473.8" cy="431.6" r="4.2" fill="#9b8cc4"/>
<circle cx="503.77" cy="431.6" r="4.2" fill="#9b8cc4"/>
<circle cx="533.74" cy="431.6" r="4.2" fill="#9b8cc4"/>
<circle cx="563.71" cy="431.6" r="4.2" fill="#9b8cc4"/>
<circle cx="593.68" cy="398.9" r="4.2" fill="#9b8cc4"/>
<circle cx="623.65" cy="383.5" r="4.2" fill="#9b8cc4"/>
<circle cx="653.62" cy="354.4" r="4.2" fill="#9b8cc4"/>
<circle cx="683.59" cy="342.8" r="4.2" fill="#9b8cc4"/>
<circle cx="713.56" cy="287.7" r="4.2" fill="#9b8cc4"/>
<text x="756.5" y="223" font-size="36.8" class="lab">D</text>
<line x1="837" y1="243" x2="837" y2="402.5" stroke="#000" stroke-width="1.9"/>
<line x1="837" y1="415.5" x2="837" y2="448.7" stroke="#000" stroke-width="1.9"/>
<line x1="831.5" y1="410.3" x2="842" y2="401" stroke="#000" stroke-width="1.9"/>
<line x1="831.5" y1="422.8" x2="842" y2="413.5" stroke="#000" stroke-width="1.9"/>
<line x1="836.1" y1="447.8" x2="1143.4" y2="447.8" stroke="#000" stroke-width="1.9"/>
<line x1="828.3" y1="270.6" x2="837" y2="270.6" stroke="#000" stroke-width="1.9"/>
<text x="824.6" y="277.4" font-size="19.2" text-anchor="end">125</text>
<line x1="828.3" y1="337" x2="837" y2="337" stroke="#000" stroke-width="1.9"/>
<text x="824.6" y="343.8" font-size="19.2" text-anchor="end">100</text>
<line x1="828.3" y1="377.2" x2="837" y2="377.2" stroke="#000" stroke-width="1.9"/>
<text x="824.6" y="426.2" font-size="19.2" text-anchor="end">25</text>
<line x1="828.3" y1="447.8" x2="837" y2="447.8" stroke="#000" stroke-width="1.9"/>
<text x="824.6" y="454.6" font-size="19.2" text-anchor="end">0</text>
<line x1="843" y1="377.2" x2="1139" y2="377.2" stroke="#222" stroke-width="1.6" stroke-dasharray="1.7 4.3"/>
<line x1="837" y1="447.8" x2="837" y2="455.8" stroke="#000" stroke-width="1.9"/>
<text x="838.2" y="479" font-size="21.2" text-anchor="middle">10</text>
<line x1="870.94" y1="447.8" x2="870.94" y2="455.8" stroke="#000" stroke-width="1.9"/>
<text x="872.14" y="479" font-size="21.2" text-anchor="middle">12</text>
<line x1="904.88" y1="447.8" x2="904.88" y2="455.8" stroke="#000" stroke-width="1.9"/>
<text x="906.08" y="479" font-size="21.2" text-anchor="middle">14</text>
<line x1="938.82" y1="447.8" x2="938.82" y2="455.8" stroke="#000" stroke-width="1.9"/>
<text x="940.02" y="479" font-size="21.2" text-anchor="middle">16</text>
<line x1="972.76" y1="447.8" x2="972.76" y2="455.8" stroke="#000" stroke-width="1.9"/>
<text x="973.96" y="479" font-size="21.2" text-anchor="middle">18</text>
<line x1="1006.7" y1="447.8" x2="1006.7" y2="455.8" stroke="#000" stroke-width="1.9"/>
<text x="1007.9" y="479" font-size="21.2" text-anchor="middle">20</text>
<line x1="1040.64" y1="447.8" x2="1040.64" y2="455.8" stroke="#000" stroke-width="1.9"/>
<text x="1041.84" y="479" font-size="21.2" text-anchor="middle">22</text>
<line x1="1074.58" y1="447.8" x2="1074.58" y2="455.8" stroke="#000" stroke-width="1.9"/>
<text x="1075.78" y="479" font-size="21.2" text-anchor="middle">24</text>
<line x1="1108.52" y1="447.8" x2="1108.52" y2="455.8" stroke="#000" stroke-width="1.9"/>
<text x="1109.72" y="479" font-size="21.2" text-anchor="middle">26</text>
<line x1="1142.46" y1="447.8" x2="1142.46" y2="455.8" stroke="#000" stroke-width="1.9"/>
<text x="1143.66" y="479" font-size="21.2" text-anchor="middle">28</text>
<text x="988" y="501.5" font-size="22" text-anchor="middle">Time (Days)</text>
<text font-size="22" text-anchor="middle" transform="translate(779.5 349) rotate(-90)">Weight (%)</text>
<path d="M837 329.07V345.07M833 329.07H841M833 345.07H841M870.94 315.57V339.57M866.94 315.57H874.94M866.94 339.57H874.94M904.88 313.06V339.06M900.88 313.06H908.88M900.88 339.06H908.88M938.82 310.56V336.56M934.82 310.56H942.82M934.82 336.56H942.82M972.76 322.82V344.82M968.76 322.82H976.76M968.76 344.82H976.76M1006.7 318.07V342.07M1002.7 318.07H1010.7M1002.7 342.07H1010.7M1040.64 303.81V323.81M1036.64 303.81H1044.64M1036.64 323.81H1044.64M1074.58 297.05V317.05M1070.58 297.05H1078.58M1070.58 317.05H1078.58M1108.52 296.3V316.3M1104.52 296.3H1112.52M1104.52 316.3H1112.52" stroke="#c97bb4" stroke-width="1.5" fill="none"/>
<path d="M837 337.07 L870.94 327.57 L904.88 326.06 L938.82 323.56 L972.76 333.82 L1006.7 330.07 L1040.64 313.81 L1074.58 307.05 L1108.52 306.3" stroke="#c97bb4" stroke-width="3.6" fill="none" stroke-linejoin="round"/>
<circle cx="837" cy="337.07" r="4.1" fill="#e08cc0" stroke="#000" stroke-width="3.1"/>
<circle cx="870.94" cy="327.57" r="4.1" fill="#e08cc0" stroke="#000" stroke-width="3.1"/>
<circle cx="904.88" cy="326.06" r="4.1" fill="#e08cc0" stroke="#000" stroke-width="3.1"/>
<circle cx="938.82" cy="323.56" r="4.1" fill="#e08cc0" stroke="#000" stroke-width="3.1"/>
<circle cx="972.76" cy="333.82" r="4.1" fill="#e08cc0" stroke="#000" stroke-width="3.1"/>
<circle cx="1006.7" cy="330.07" r="4.1" fill="#e08cc0" stroke="#000" stroke-width="3.1"/>
<circle cx="1040.64" cy="313.81" r="4.1" fill="#e08cc0" stroke="#000" stroke-width="3.1"/>
<circle cx="1074.58" cy="307.05" r="4.1" fill="#e08cc0" stroke="#000" stroke-width="3.1"/>
<circle cx="1108.52" cy="306.3" r="4.1" fill="#e08cc0" stroke="#000" stroke-width="3.1"/>
<path d="M837 331.07V343.07M833 331.07H841M833 343.07H841M870.94 327.07V343.07M866.94 327.07H874.94M866.94 343.07H874.94M904.88 325.07V341.07M900.88 325.07H908.88M900.88 341.07H908.88M938.82 323.32V339.32M934.82 323.32H942.82M934.82 339.32H942.82M972.76 324.57V340.57M968.76 324.57H976.76M968.76 340.57H976.76M1006.7 322.57V338.57M1002.7 322.57H1010.7M1002.7 338.57H1010.7M1040.64 318.07V336.07M1036.64 318.07H1044.64M1036.64 336.07H1044.64M1074.58 316.31V334.31M1070.58 316.31H1078.58M1070.58 334.31H1078.58M1108.52 312.56V328.56M1104.52 312.56H1112.52M1104.52 328.56H1112.52" stroke="#dedad6" stroke-width="1.5" fill="none"/>
<path d="M837 337.07 L870.94 335.07 L904.88 333.07 L938.82 331.32 L972.76 332.57 L1006.7 330.57 L1040.64 327.07 L1074.58 325.31 L1108.52 320.56" stroke="#dedad6" stroke-width="3.6" fill="none" stroke-linejoin="round"/>
<rect x="832.9" y="332.97" width="8.2" height="8.2" rx="1.2" fill="#e4e0dc" stroke="#000" stroke-width="3"/>
<rect x="866.84" y="330.97" width="8.2" height="8.2" rx="1.2" fill="#e4e0dc" stroke="#000" stroke-width="3"/>
<rect x="900.78" y="328.97" width="8.2" height="8.2" rx="1.2" fill="#e4e0dc" stroke="#000" stroke-width="3"/>
<rect x="934.72" y="327.22" width="8.2" height="8.2" rx="1.2" fill="#e4e0dc" stroke="#000" stroke-width="3"/>
<rect x="968.66" y="328.47" width="8.2" height="8.2" rx="1.2" fill="#e4e0dc" stroke="#000" stroke-width="3"/>
<rect x="1002.6" y="326.47" width="8.2" height="8.2" rx="1.2" fill="#e4e0dc" stroke="#000" stroke-width="3"/>
<rect x="1036.54" y="322.97" width="8.2" height="8.2" rx="1.2" fill="#e4e0dc" stroke="#000" stroke-width="3"/>
<rect x="1070.48" y="321.21" width="8.2" height="8.2" rx="1.2" fill="#e4e0dc" stroke="#000" stroke-width="3"/>
<rect x="1104.42" y="316.46" width="8.2" height="8.2" rx="1.2" fill="#e4e0dc" stroke="#000" stroke-width="3"/>
<path d="M837 328.07V346.07M833 328.07H841M833 346.07H841M870.94 322.07V344.07M866.94 322.07H874.94M866.94 344.07H874.94M904.88 317.07V339.07M900.88 317.07H908.88M900.88 339.07H908.88M938.82 314.81V336.81M934.82 314.81H942.82M934.82 336.81H942.82M972.76 314.81V332.81M968.76 314.81H976.76M968.76 332.81H976.76M1006.7 311.56V329.56M1002.7 311.56H1010.7M1002.7 329.56H1010.7M1040.64 300.05V316.05M1036.64 300.05H1044.64M1036.64 316.05H1044.64M1074.58 293.3V309.3M1070.58 293.3H1078.58M1070.58 309.3H1078.58M1108.52 292.55V308.55M1104.52 292.55H1112.52M1104.52 308.55H1112.52" stroke="#99cce8" stroke-width="1.5" fill="none"/>
<path d="M837 337.07 L870.94 333.07 L904.88 328.07 L938.82 325.81 L972.76 323.81 L1006.7 320.56 L1040.64 308.05 L1074.58 301.3 L1108.52 300.55" stroke="#99cce8" stroke-width="3.6" fill="none" stroke-linejoin="round"/>
<path d="M837 332.27 L840.84 337.07 L837 341.87 L833.16 337.07 Z" fill="#99cce8"/>
<path d="M870.94 328.27 L874.78 333.07 L870.94 337.87 L867.1 333.07 Z" fill="#99cce8"/>
<path d="M904.88 323.27 L908.72 328.07 L904.88 332.87 L901.04 328.07 Z" fill="#99cce8"/>
<path d="M938.82 321.01 L942.66 325.81 L938.82 330.61 L934.98 325.81 Z" fill="#99cce8"/>
<path d="M972.76 319.01 L976.6 323.81 L972.76 328.61 L968.92 323.81 Z" fill="#99cce8"/>
<path d="M1006.7 315.76 L1010.54 320.56 L1006.7 325.36 L1002.86 320.56 Z" fill="#99cce8"/>
<path d="M1040.64 303.25 L1044.48 308.05 L1040.64 312.85 L1036.8 308.05 Z" fill="#99cce8"/>
<path d="M1074.58 296.5 L1078.42 301.3 L1074.58 306.1 L1070.74 301.3 Z" fill="#99cce8"/>
<path d="M1108.52 295.75 L1112.36 300.55 L1108.52 305.35 L1104.68 300.55 Z" fill="#99cce8"/>
<path d="M837 329.07V345.07M833 329.07H841M833 345.07H841M870.94 324.57V344.57M866.94 324.57H874.94M866.94 344.57H874.94M904.88 320.07V340.07M900.88 320.07H908.88M900.88 340.07H908.88M938.82 318.07V338.07M934.82 318.07H942.82M934.82 338.07H942.82M972.76 317.07V337.07M968.76 317.07H976.76M968.76 337.07H976.76M1006.7 314.56V334.56M1002.7 314.56H1010.7M1002.7 334.56H1010.7M1040.64 304.55V320.55M1036.64 304.55H1044.64M1036.64 320.55H1044.64M1074.58 295.05V311.05M1070.58 295.05H1078.58M1070.58 311.05H1078.58M1108.52 294.55V310.55M1104.52 294.55H1112.52M1104.52 310.55H1112.52" stroke="#d7dbee" stroke-width="1.5" fill="none"/>
<path d="M837 337.07 L870.94 334.57 L904.88 330.07 L938.82 328.07 L972.76 327.07 L1006.7 324.56 L1040.64 312.55 L1074.58 303.05 L1108.52 302.55" stroke="#d7dbee" stroke-width="3.6" fill="none" stroke-linejoin="round"/>
<path d="M837 341.67 L841.6 333.39 L832.4 333.39 Z" fill="#d7dbee"/>
<path d="M870.94 339.17 L875.54 330.89 L866.34 330.89 Z" fill="#d7dbee"/>
<path d="M904.88 334.67 L909.48 326.39 L900.28 326.39 Z" fill="#d7dbee"/>
<path d="M938.82 332.67 L943.42 324.39 L934.22 324.39 Z" fill="#d7dbee"/>
<path d="M972.76 331.67 L977.36 323.39 L968.16 323.39 Z" fill="#d7dbee"/>
<path d="M1006.7 329.16 L1011.3 320.88 L1002.1 320.88 Z" fill="#d7dbee"/>
<path d="M1040.64 317.15 L1045.24 308.87 L1036.04 308.87 Z" fill="#d7dbee"/>
<path d="M1074.58 307.65 L1079.18 299.37 L1069.98 299.37 Z" fill="#d7dbee"/>
<path d="M1108.52 307.15 L1113.12 298.87 L1103.92 298.87 Z" fill="#d7dbee"/>
<path d="M837 325.07V349.07M833 325.07H841M833 349.07H841M870.94 322.07V350.07M866.94 322.07H874.94M866.94 350.07H874.94M904.88 318.07V346.07M900.88 318.07H908.88M900.88 346.07H908.88M938.82 316.07V344.07M934.82 316.07H942.82M934.82 344.07H942.82M972.76 316.07V340.07M968.76 316.07H976.76M968.76 340.07H976.76M1006.7 313.56V337.56M1002.7 313.56H1010.7M1002.7 337.56H1010.7M1040.64 295.55V321.55M1036.64 295.55H1044.64M1036.64 321.55H1044.64M1074.58 276.54V306.54M1070.58 276.54H1078.58M1070.58 306.54H1078.58M1108.52 278.79V305.79M1104.52 278.79H1112.52M1104.52 305.79H1112.52" stroke="#f6c8aa" stroke-width="1.5" fill="none"/>
<path d="M837 337.07 L870.94 336.07 L904.88 332.07 L938.82 330.07 L972.76 328.07 L1006.7 325.56 L1040.64 309.55 L1074.58 294.54 L1108.52 293.79" stroke="#f6c8aa" stroke-width="3.6" fill="none" stroke-linejoin="round"/>
<path d="M837 332.47 L841.6 340.75 L832.4 340.75 Z" fill="#f6c8aa"/>
<path d="M870.94 331.47 L875.54 339.75 L866.34 339.75 Z" fill="#f6c8aa"/>
<path d="M904.88 327.47 L909.48 335.75 L900.28 335.75 Z" fill="#f6c8aa"/>
<path d="M938.82 325.47 L943.42 333.75 L934.22 333.75 Z" fill="#f6c8aa"/>
<path d="M972.76 323.47 L977.36 331.75 L968.16 331.75 Z" fill="#f6c8aa"/>
<path d="M1006.7 320.96 L1011.3 329.24 L1002.1 329.24 Z" fill="#f6c8aa"/>
<path d="M1040.64 304.95 L1045.24 313.23 L1036.04 313.23 Z" fill="#f6c8aa"/>
<path d="M1074.58 289.94 L1079.18 298.22 L1069.98 298.22 Z" fill="#f6c8aa"/>
<path d="M1108.52 289.19 L1113.12 297.47 L1103.92 297.47 Z" fill="#f6c8aa"/>
<path d="M837 324.07V350.07M833 324.07H841M833 350.07H841M870.94 319.07V351.07M866.94 319.07H874.94M866.94 351.07H874.94M904.88 313.57V347.57M900.88 313.57H908.88M900.88 347.57H908.88M938.82 311.82V345.82M934.82 311.82H942.82M934.82 345.82H942.82M972.76 313.57V341.57M968.76 313.57H976.76M968.76 341.57H976.76M1006.7 311.06V339.06M1002.7 311.06H1010.7M1002.7 339.06H1010.7M1040.64 300.55V320.55M1036.64 300.55H1044.64M1036.64 320.55H1044.64M1074.58 291.8V315.8M1070.58 291.8H1078.58M1070.58 315.8H1078.58M1108.52 294.55V314.55M1104.52 294.55H1112.52M1104.52 314.55H1112.52" stroke="#7ab0a6" stroke-width="1.5" fill="none"/>
<path d="M837 337.07 L870.94 335.07 L904.88 330.57 L938.82 328.82 L972.76 327.57 L1006.7 325.06 L1040.64 310.55 L1074.58 303.8 L1108.52 304.55" stroke="#7ab0a6" stroke-width="3.6" fill="none" stroke-linejoin="round"/>
<rect x="832.9" y="332.97" width="8.2" height="8.2" fill="#7ab0a6"/>
<rect x="866.84" y="330.97" width="8.2" height="8.2" fill="#7ab0a6"/>
<rect x="900.78" y="326.47" width="8.2" height="8.2" fill="#7ab0a6"/>
<rect x="934.72" y="324.72" width="8.2" height="8.2" fill="#7ab0a6"/>
<rect x="968.66" y="323.47" width="8.2" height="8.2" fill="#7ab0a6"/>
<rect x="1002.6" y="320.96" width="8.2" height="8.2" fill="#7ab0a6"/>
<rect x="1036.54" y="306.45" width="8.2" height="8.2" fill="#7ab0a6"/>
<rect x="1070.48" y="299.7" width="8.2" height="8.2" fill="#7ab0a6"/>
<rect x="1104.42" y="300.45" width="8.2" height="8.2" fill="#7ab0a6"/>
<path d="M837 327.07V347.07M833 327.07H841M833 347.07H841M870.94 321.82V345.82M866.94 321.82H874.94M866.94 345.82H874.94M904.88 317.57V341.57M900.88 317.57H908.88M900.88 341.57H908.88M938.82 315.57V339.57M934.82 315.57H942.82M934.82 339.57H942.82M972.76 316.31V336.31M968.76 316.31H976.76M968.76 336.31H976.76M1006.7 313.81V333.81M1002.7 313.81H1010.7M1002.7 333.81H1010.7M1040.64 297.8V319.8M1036.64 297.8H1044.64M1036.64 319.8H1044.64M1074.58 288.29V310.29M1070.58 288.29H1078.58M1070.58 310.29H1078.58M1108.52 286.29V306.29M1104.52 286.29H1112.52M1104.52 306.29H1112.52" stroke="#9b8cc4" stroke-width="1.5" fill="none"/>
<path d="M837 337.07 L870.94 333.82 L904.88 329.57 L938.82 327.57 L972.76 326.31 L1006.7 323.81 L1040.64 308.8 L1074.58 299.29 L1108.52 296.29" stroke="#9b8cc4" stroke-width="3.6" fill="none" stroke-linejoin="round"/>
<circle cx="837" cy="337.07" r="4.2" fill="#9b8cc4"/>
<circle cx="870.94" cy="333.82" r="4.2" fill="#9b8cc4"/>
<circle cx="904.88" cy="329.57" r="4.2" fill="#9b8cc4"/>
<circle cx="938.82" cy="327.57" r="4.2" fill="#9b8cc4"/>
<circle cx="972.76" cy="326.31" r="4.2" fill="#9b8cc4"/>
<circle cx="1006.7" cy="323.81" r="4.2" fill="#9b8cc4"/>
<circle cx="1040.64" cy="308.8" r="4.2" fill="#9b8cc4"/>
<circle cx="1074.58" cy="299.29" r="4.2" fill="#9b8cc4"/>
<circle cx="1108.52" cy="296.29" r="4.2" fill="#9b8cc4"/>
<line x1="1158.3" y1="261.9" x2="1182.1" y2="261.9" stroke="#9b8cc4" stroke-width="3.6"/>
<circle cx="1170.2" cy="261.9" r="4.2" fill="#9b8cc4"/>
<text x="1194.8" y="265.1" font-size="20.05">Saline</text>
<line x1="1158.3" y1="292.4" x2="1182.1" y2="292.4" stroke="#7ab0a6" stroke-width="3.6"/>
<rect x="1166.1" y="288.3" width="8.2" height="8.2" fill="#7ab0a6"/>
<text x="1194.8" y="296.1" font-size="20.05">OVA</text>
<line x1="1158.3" y1="322.5" x2="1182.1" y2="322.5" stroke="#f6c8aa" stroke-width="3.6"/>
<path d="M1170.2 317.9 L1174.8 326.18 L1165.6 326.18 Z" fill="#f6c8aa"/>
<text x="1194.8" y="326.3" font-size="20.05">PVP@Pt</text>
<line x1="1158.3" y1="352" x2="1182.1" y2="352" stroke="#d7dbee" stroke-width="3.6"/>
<path d="M1170.2 356.6 L1174.8 348.32 L1165.6 348.32 Z" fill="#d7dbee"/>
<text x="1194.8" y="357.4" font-size="20.05">PEG-b-PAE</text>
<line x1="1158.3" y1="382.2" x2="1182.1" y2="382.2" stroke="#99cce8" stroke-width="3.6"/>
<path d="M1170.2 377.4 L1174.04 382.2 L1170.2 387 L1166.36 382.2 Z" fill="#99cce8"/>
<text x="1194.8" y="385.7" font-size="20.05">DP@Pt-OVA</text>
<line x1="1158.3" y1="412.1" x2="1182.1" y2="412.1" stroke="#c97bb4" stroke-width="3.6"/>
<circle cx="1170.2" cy="412.1" r="4.1" fill="#e08cc0" stroke="#000" stroke-width="3.1"/>
<text x="1194.8" y="416.2" font-size="20.05">OVA+R848</text>
<line x1="1158.3" y1="442.6" x2="1182.1" y2="442.6" stroke="#dedad6" stroke-width="3.6"/>
<rect x="1166.1" y="438.5" width="8.2" height="8.2" rx="1.2" fill="#e4e0dc" stroke="#000" stroke-width="3"/>
<text x="1194.8" y="449.1" font-size="20.05">PP@Pt-OVA</text>
<text x="4.8" y="566.5" font-size="36.8" class="lab">E</text>
<path d="M125.85 811.15V797.08H151.75V811.15" stroke="#9b8cc4" stroke-width="2.9" fill="none"/>
<path d="M138.8 789.69V801.58M133.3 789.69H144.3M133.3 801.58H144.3" stroke="#9b8cc4" stroke-width="1.5" fill="none"/>
<circle cx="129.4" cy="792.2" r="4.45" fill="#9b8cc4"/>
<circle cx="148.2" cy="792.2" r="4.45" fill="#9b8cc4"/>
<circle cx="138.8" cy="802.5" r="4.45" fill="#9b8cc4"/>
<path d="M168.08 811.15V776.82H193.98V811.15" stroke="#d9ddef" stroke-width="2.9" fill="none"/>
<circle cx="171.63" cy="776" r="4.45" fill="#d9ddef"/>
<circle cx="181.03" cy="774.1" r="4.45" fill="#d9ddef"/>
<circle cx="190.43" cy="776" r="4.45" fill="#d9ddef"/>
<path d="M210.32 811.15V771.92H236.22V811.15" stroke="#7ab0a6" stroke-width="2.9" fill="none"/>
<path d="M223.27 767.46V773.47M217.77 767.46H228.77M217.77 773.47H228.77" stroke="#7ab0a6" stroke-width="1.5" fill="none"/>
<circle cx="213.87" cy="772.2" r="4.45" fill="#7ab0a6"/>
<circle cx="223.27" cy="767" r="4.45" fill="#7ab0a6"/>
<circle cx="232.67" cy="772.2" r="4.45" fill="#7ab0a6"/>
<path d="M252.55 811.15V769.55H278.45V811.15" stroke="#f6c8aa" stroke-width="2.9" fill="none"/>
<path d="M265.5 765.43V770.77M260 765.43H271M260 770.77H271" stroke="#f6c8aa" stroke-width="1.5" fill="none"/>
<circle cx="256.1" cy="770.2" r="4.45" fill="#f6c8aa"/>
<circle cx="265.5" cy="765.1" r="4.45" fill="#f6c8aa"/>
<circle cx="274.9" cy="769" r="4.45" fill="#f6c8aa"/>
<path d="M294.78 811.15V756.65H320.68V811.15" stroke="#99cce8" stroke-width="2.9" fill="none"/>
<path d="M307.73 744.2V766.2M302.23 744.2H313.23M302.23 766.2H313.23" stroke="#99cce8" stroke-width="1.5" fill="none"/>
<circle cx="298.33" cy="761.9" r="4.45" fill="#99cce8"/>
<circle cx="307.73" cy="742.5" r="4.45" fill="#99cce8"/>
<circle cx="317.13" cy="761.2" r="4.45" fill="#99cce8"/>
<path d="M337.02 811.15V758.58H362.92V811.15" stroke="#ddd9d4" stroke-width="2.9" fill="none"/>
<path d="M349.97 751.72V762.55M344.47 751.72H355.47M344.47 762.55H355.47" stroke="#ddd9d4" stroke-width="1.5" fill="none"/>
<circle cx="340.57" cy="763.2" r="4.45" fill="#ddd9d4"/>
<circle cx="349.97" cy="752.8" r="4.45" fill="#ddd9d4"/>
<circle cx="359.37" cy="755.4" r="4.45" fill="#ddd9d4"/>
<path d="M379.25 811.15V732.38H405.15V811.15" stroke="#5a5a5a" stroke-width="2.9" fill="none"/>
<path d="M392.2 726.41V735.45M386.7 726.41H397.7M386.7 735.45H397.7" stroke="#5a5a5a" stroke-width="1.5" fill="none"/>
<circle cx="382.8" cy="736.1" r="4.45" fill="#5a5a5a"/>
<circle cx="392.2" cy="727.7" r="4.45" fill="#5a5a5a"/>
<circle cx="401.6" cy="729" r="4.45" fill="#5a5a5a"/>
<rect x="110.7" y="573.75" width="308.7" height="237.4" fill="none" stroke="#000" stroke-width="1.9"/>
<line x1="100.4" y1="811.15" x2="110.7" y2="811.15" stroke="#000" stroke-width="1.9"/>
<text x="92.8" y="819.45" font-size="22.5" text-anchor="end">0</text>
<line x1="100.4" y1="751.85" x2="110.7" y2="751.85" stroke="#000" stroke-width="1.9"/>
<text x="92.8" y="760.15" font-size="22.5" text-anchor="end">20</text>
<line x1="100.4" y1="692.45" x2="110.7" y2="692.45" stroke="#000" stroke-width="1.9"/>
<text x="92.8" y="700.75" font-size="22.5" text-anchor="end">40</text>
<line x1="100.4" y1="633.05" x2="110.7" y2="633.05" stroke="#000" stroke-width="1.9"/>
<text x="92.8" y="641.35" font-size="22.5" text-anchor="end">60</text>
<line x1="100.4" y1="573.75" x2="110.7" y2="573.75" stroke="#000" stroke-width="1.9"/>
<text x="92.8" y="582.05" font-size="22.5" text-anchor="end">80</text>
<line x1="138.2" y1="811.15" x2="138.2" y2="822.15" stroke="#000" stroke-width="1.9"/>
<text font-size="22.4" text-anchor="end" transform="translate(140 840.35) rotate(-30)">Saline</text>
<line x1="180.43" y1="811.15" x2="180.43" y2="822.15" stroke="#000" stroke-width="1.9"/>
<text font-size="22.4" text-anchor="end" transform="translate(178.83 839.85) rotate(-30)">OVA</text>
<line x1="222.67" y1="811.15" x2="222.67" y2="822.15" stroke="#000" stroke-width="1.9"/>
<text font-size="22.4" text-anchor="end" transform="translate(227.87 840.35) rotate(-30)">PVP@Pt</text>
<line x1="264.9" y1="811.15" x2="264.9" y2="822.15" stroke="#000" stroke-width="1.9"/>
<text font-size="22.4" text-anchor="end" transform="translate(275.2 840.35) rotate(-30)">PEG-b-PAE</text>
<line x1="307.13" y1="811.15" x2="307.13" y2="822.15" stroke="#000" stroke-width="1.9"/>
<text font-size="22.4" text-anchor="end" transform="translate(331.13 840.35) rotate(-30)">DP@Pt-OVA</text>
<line x1="349.37" y1="811.15" x2="349.37" y2="822.15" stroke="#000" stroke-width="1.9"/>
<text font-size="22.4" text-anchor="end" transform="translate(381.87 840.35) rotate(-30)">OVA+R848</text>
<line x1="391.6" y1="811.15" x2="391.6" y2="822.15" stroke="#000" stroke-width="1.9"/>
<text font-size="22.4" text-anchor="end" transform="translate(428.6 840.35) rotate(-30)">PP@Pt-OVA</text>
<path d="M138.4 782.5 L138.4 733.3 L223 733.3" stroke="#000" stroke-width="1.9" fill="none" stroke-linejoin="miter"/>
<path d="M223 753.3 L223 616.3 L393.6 616.3 L393.6 671.3" stroke="#000" stroke-width="1.9" fill="none" stroke-linejoin="miter"/>
<path d="M393.6 694.5 L393.6 712.4" stroke="#000" stroke-width="1.9" fill="none" stroke-linejoin="miter"/>
<path d="M308.4 671.3 L308.4 649.4 L393.6 649.4" stroke="#000" stroke-width="1.9" fill="none" stroke-linejoin="miter"/>
<path d="M308.4 693.8 L308.4 732.2" stroke="#000" stroke-width="1.9" fill="none" stroke-linejoin="miter"/>
<path d="M348.9 726 L348.9 695.8 L393.6 695.8" stroke="#000" stroke-width="1.9" fill="none" stroke-linejoin="miter"/>
<text x="125.6" y="601.2" font-size="22.5">LN</text>
<text x="261" y="603.6" font-size="22.5"><tspan class="it">P</tspan>&lt;0.0001</text>
<text x="295.1" y="641.9" font-size="22.5"><tspan class="it">P</tspan>=0.0013</text>
<text x="295.1" y="689.7" font-size="22.5"><tspan class="it">P</tspan>=0.0005</text>
<text x="125.3" y="726.6" font-size="22.5"><tspan class="it">P</tspan>=0.0012</text>
<text font-size="22.6" transform="translate(24.1 748.86) rotate(-90)" textLength="59.3" lengthAdjust="spacingAndGlyphs">CD80</text>
<text font-size="14" transform="translate(11.8 691.01) rotate(-90)" font-weight="bold">+</text>
<text font-size="22.6" transform="translate(24.1 677.12) rotate(-90)" textLength="61.26" lengthAdjust="spacingAndGlyphs">H-2kb</text>
<text font-size="14" transform="translate(11.8 615.1) rotate(-90)" font-weight="bold">+</text>
<text font-size="22.6" transform="translate(56.5 787.31) rotate(-90)" textLength="92.88" lengthAdjust="spacingAndGlyphs">in CD11c</text>
<text font-size="14" transform="translate(44.2 688.79) rotate(-90)" font-weight="bold">+</text>
<text font-size="22.6" transform="translate(56.5 678.85) rotate(-90)" textLength="86.95" lengthAdjust="spacingAndGlyphs">cells (%)</text>
<text x="448.3" y="566.5" font-size="36.8" class="lab">F</text>
<path d="M570.45 806.4V788.95H596.35V806.4" stroke="#9b8cc4" stroke-width="2.9" fill="none"/>
<path d="M583.4 779.53V795.47M577.9 779.53H588.9M577.9 795.47H588.9" stroke="#9b8cc4" stroke-width="1.5" fill="none"/>
<circle cx="574" cy="782.9" r="4.45" fill="#9b8cc4"/>
<circle cx="592.8" cy="782.9" r="4.45" fill="#9b8cc4"/>
<circle cx="583.4" cy="796.7" r="4.45" fill="#9b8cc4"/>
<path d="M612.05 806.4V771.48H637.95V806.4" stroke="#d9ddef" stroke-width="2.9" fill="none"/>
<path d="M625 768.78V771.28M619.5 768.78H630.5M619.5 771.28H630.5" stroke="#d9ddef" stroke-width="1.5" fill="none"/>
<circle cx="615.6" cy="771.3" r="4.45" fill="#d9ddef"/>
<circle cx="625" cy="768.8" r="4.45" fill="#d9ddef"/>
<circle cx="634.4" cy="770" r="4.45" fill="#d9ddef"/>
<path d="M653.65 806.4V764.22H679.55V806.4" stroke="#7ab0a6" stroke-width="2.9" fill="none"/>
<path d="M666.6 759.54V766M661.1 759.54H672.1M661.1 766H672.1" stroke="#7ab0a6" stroke-width="1.5" fill="none"/>
<circle cx="657.2" cy="765.2" r="4.45" fill="#7ab0a6"/>
<circle cx="666.6" cy="759.1" r="4.45" fill="#7ab0a6"/>
<circle cx="676" cy="764" r="4.45" fill="#7ab0a6"/>
<path d="M695.25 806.4V760.18H721.15V806.4" stroke="#f6c8aa" stroke-width="2.9" fill="none"/>
<path d="M708.2 755.9V761.57M702.7 755.9H713.7M702.7 761.57H713.7" stroke="#f6c8aa" stroke-width="1.5" fill="none"/>
<circle cx="698.8" cy="760.8" r="4.45" fill="#f6c8aa"/>
<circle cx="708.2" cy="755.5" r="4.45" fill="#f6c8aa"/>
<circle cx="717.6" cy="759.9" r="4.45" fill="#f6c8aa"/>
<path d="M736.85 806.4V751.68H762.75V806.4" stroke="#99cce8" stroke-width="2.9" fill="none"/>
<path d="M749.8 741.54V758.93M744.3 741.54H755.3M744.3 758.93H755.3" stroke="#99cce8" stroke-width="1.5" fill="none"/>
<circle cx="740.4" cy="755.5" r="4.45" fill="#99cce8"/>
<circle cx="749.8" cy="740.2" r="4.45" fill="#99cce8"/>
<circle cx="759.2" cy="755" r="4.45" fill="#99cce8"/>
<path d="M778.45 806.4V752.52H804.35V806.4" stroke="#ddd9d4" stroke-width="2.9" fill="none"/>
<path d="M791.4 746.78V755.36M785.9 746.78H796.9M785.9 755.36H796.9" stroke="#ddd9d4" stroke-width="1.5" fill="none"/>
<circle cx="782" cy="756" r="4.45" fill="#ddd9d4"/>
<circle cx="791.4" cy="748.2" r="4.45" fill="#ddd9d4"/>
<circle cx="800.8" cy="749" r="4.45" fill="#ddd9d4"/>
<path d="M820.05 806.4V732.78H845.95V806.4" stroke="#5a5a5a" stroke-width="2.9" fill="none"/>
<path d="M833 728.5V734.17M827.5 728.5H838.5M827.5 734.17H838.5" stroke="#5a5a5a" stroke-width="1.5" fill="none"/>
<circle cx="823.6" cy="734.4" r="4.45" fill="#5a5a5a"/>
<circle cx="833" cy="728.8" r="4.45" fill="#5a5a5a"/>
<circle cx="842.4" cy="730.8" r="4.45" fill="#5a5a5a"/>
<rect x="555.6" y="571.3" width="305.7" height="235.1" fill="none" stroke="#000" stroke-width="1.9"/>
<line x1="545.3" y1="806.4" x2="555.6" y2="806.4" stroke="#000" stroke-width="1.9"/>
<text x="536.3" y="816.4" font-size="22.5" text-anchor="end">0</text>
<line x1="545.3" y1="728" x2="555.6" y2="728" stroke="#000" stroke-width="1.9"/>
<text x="536.3" y="738" font-size="22.5" text-anchor="end">50</text>
<line x1="545.3" y1="649.7" x2="555.6" y2="649.7" stroke="#000" stroke-width="1.9"/>
<text x="536.3" y="659.7" font-size="22.5" text-anchor="end">100</text>
<line x1="545.3" y1="571.3" x2="555.6" y2="571.3" stroke="#000" stroke-width="1.9"/>
<text x="536.3" y="581.3" font-size="22.5" text-anchor="end">150</text>
<line x1="582.8" y1="806.4" x2="582.8" y2="817.4" stroke="#000" stroke-width="1.9"/>
<text font-size="22.4" text-anchor="end" transform="translate(580 835.6) rotate(-30)">Saline</text>
<line x1="624.4" y1="806.4" x2="624.4" y2="817.4" stroke="#000" stroke-width="1.9"/>
<text font-size="22.4" text-anchor="end" transform="translate(619.1 835.1) rotate(-30)">OVA</text>
<line x1="666" y1="806.4" x2="666" y2="817.4" stroke="#000" stroke-width="1.9"/>
<text font-size="22.4" text-anchor="end" transform="translate(667.7 835.6) rotate(-30)">PVP@Pt</text>
<line x1="707.6" y1="806.4" x2="707.6" y2="817.4" stroke="#000" stroke-width="1.9"/>
<text font-size="22.4" text-anchor="end" transform="translate(715.6 835.6) rotate(-30)">PEG-b-PAE</text>
<line x1="749.2" y1="806.4" x2="749.2" y2="817.4" stroke="#000" stroke-width="1.9"/>
<text font-size="22.4" text-anchor="end" transform="translate(773.2 835.6) rotate(-30)">DP@Pt-OVA</text>
<line x1="790.8" y1="806.4" x2="790.8" y2="817.4" stroke="#000" stroke-width="1.9"/>
<text font-size="22.4" text-anchor="end" transform="translate(823.3 835.6) rotate(-30)">OVA+R848</text>
<line x1="832.4" y1="806.4" x2="832.4" y2="817.4" stroke="#000" stroke-width="1.9"/>
<text font-size="22.4" text-anchor="end" transform="translate(869.4 835.6) rotate(-30)">PP@Pt-OVA</text>
<path d="M582.8 771 L582.8 723.2 L670.6 723.2" stroke="#000" stroke-width="1.9" fill="none" stroke-linejoin="miter"/>
<path d="M670.6 745.5 L670.6 612.6 L834.3 612.6 L834.3 722.8" stroke="#000" stroke-width="1.9" fill="none" stroke-linejoin="miter"/>
<path d="M749.4 658.8 L749.4 647 L834.3 647" stroke="#000" stroke-width="1.9" fill="none" stroke-linejoin="miter"/>
<path d="M749.4 688.8 L749.4 731.6" stroke="#000" stroke-width="1.9" fill="none" stroke-linejoin="miter"/>
<path d="M792.7 722.5 L792.7 691.6 L834.3 691.6" stroke="#000" stroke-width="1.9" fill="none" stroke-linejoin="miter"/>
<text x="568.2" y="600.2" font-size="22.2">LN</text>
<text x="704.6" y="600.2" font-size="22.2"><tspan class="it">P</tspan>&lt;0.0001</text>
<text x="739.2" y="642.6" font-size="22.2"><tspan class="it">P</tspan>=0.0081</text>
<text x="737.2" y="686.3" font-size="22.2"><tspan class="it">P</tspan>=0.0055</text>
<text x="572.6" y="704" font-size="22.2"><tspan class="it">P</tspan>=0.0006</text>
<text font-size="22.6" transform="translate(461 752.64) rotate(-90)" textLength="57.44" lengthAdjust="spacingAndGlyphs">CD86</text>
<text font-size="14" transform="translate(448.7 689.43) rotate(-90)" font-weight="bold">+</text>
<text font-size="22.6" transform="translate(461 673.87) rotate(-90)" textLength="58.59" lengthAdjust="spacingAndGlyphs">H-2kb</text>
<text font-size="14" transform="translate(448.7 611.93) rotate(-90)" font-weight="bold">+</text>
<text font-size="22.6" transform="translate(493.4 776.47) rotate(-90)" textLength="90.28" lengthAdjust="spacingAndGlyphs">in CD11c</text>
<text font-size="14" transform="translate(481.1 678.63) rotate(-90)" font-weight="bold">+</text>
<text font-size="22.6" transform="translate(493.4 669.95) rotate(-90)" textLength="86.95" lengthAdjust="spacingAndGlyphs">cells (%)</text>
<text x="885.1" y="566.5" font-size="36.8" class="lab">G</text>
<path d="M1003.45 811.9V802.12H1029.35V811.9" stroke="#9b8cc4" stroke-width="2.9" fill="none"/>
<circle cx="1007" cy="801.8" r="4.45" fill="#9b8cc4"/>
<circle cx="1016.4" cy="799.6" r="4.45" fill="#9b8cc4"/>
<circle cx="1025.8" cy="800.6" r="4.45" fill="#9b8cc4"/>
<path d="M1045.78 811.9V765.95H1071.68V811.9" stroke="#d9ddef" stroke-width="2.9" fill="none"/>
<path d="M1058.73 762.34V766.66M1053.23 762.34H1064.23M1053.23 766.66H1064.23" stroke="#d9ddef" stroke-width="1.5" fill="none"/>
<circle cx="1049.33" cy="766.3" r="4.45" fill="#d9ddef"/>
<circle cx="1058.73" cy="762.1" r="4.45" fill="#d9ddef"/>
<circle cx="1068.13" cy="765.1" r="4.45" fill="#d9ddef"/>
<path d="M1088.12 811.9V741.72H1114.02V811.9" stroke="#7ab0a6" stroke-width="2.9" fill="none"/>
<path d="M1101.07 723.41V757.13M1095.57 723.41H1106.57M1095.57 757.13H1106.57" stroke="#7ab0a6" stroke-width="1.5" fill="none"/>
<circle cx="1091.67" cy="750" r="4.45" fill="#7ab0a6"/>
<circle cx="1101.07" cy="720.8" r="4.45" fill="#7ab0a6"/>
<circle cx="1110.47" cy="750" r="4.45" fill="#7ab0a6"/>
<path d="M1130.45 811.9V761.88H1156.35V811.9" stroke="#f6c8aa" stroke-width="2.9" fill="none"/>
<path d="M1143.4 756.82V764.05M1137.9 756.82H1148.9M1137.9 764.05H1148.9" stroke="#f6c8aa" stroke-width="1.5" fill="none"/>
<circle cx="1134" cy="763" r="4.45" fill="#f6c8aa"/>
<circle cx="1143.4" cy="756.3" r="4.45" fill="#f6c8aa"/>
<circle cx="1152.8" cy="762" r="4.45" fill="#f6c8aa"/>
<path d="M1172.78 811.9V746.98H1198.68V811.9" stroke="#99cce8" stroke-width="2.9" fill="none"/>
<path d="M1185.73 743.57V747.5M1180.23 743.57H1191.23M1180.23 747.5H1191.23" stroke="#99cce8" stroke-width="1.5" fill="none"/>
<circle cx="1176.33" cy="747" r="4.45" fill="#99cce8"/>
<circle cx="1185.73" cy="743.3" r="4.45" fill="#99cce8"/>
<circle cx="1195.13" cy="746.3" r="4.45" fill="#99cce8"/>
<path d="M1215.12 811.9V733.22H1241.02V811.9" stroke="#ddd9d4" stroke-width="2.9" fill="none"/>
<path d="M1228.07 726.75V736.78M1222.57 726.75H1233.57M1222.57 736.78H1233.57" stroke="#ddd9d4" stroke-width="1.5" fill="none"/>
<circle cx="1218.67" cy="727" r="4.45" fill="#ddd9d4"/>
<circle cx="1218.67" cy="737" r="4.45" fill="#ddd9d4"/>
<circle cx="1237.47" cy="731.3" r="4.45" fill="#ddd9d4"/>
<path d="M1257.45 811.9V706.05H1283.35V811.9" stroke="#5a5a5a" stroke-width="2.9" fill="none"/>
<path d="M1270.4 701.65V707.55M1264.9 701.65H1275.9M1264.9 707.55H1275.9" stroke="#5a5a5a" stroke-width="1.5" fill="none"/>
<circle cx="1261" cy="707" r="4.45" fill="#5a5a5a"/>
<circle cx="1270.4" cy="701.3" r="4.45" fill="#5a5a5a"/>
<circle cx="1279.8" cy="705.5" r="4.45" fill="#5a5a5a"/>
<rect x="988.2" y="573.6" width="310" height="238.3" fill="none" stroke="#000" stroke-width="1.9"/>
<line x1="977.9" y1="811.9" x2="988.2" y2="811.9" stroke="#000" stroke-width="1.9"/>
<text x="973.6" y="819.9" font-size="22.5" text-anchor="end">30</text>
<line x1="977.9" y1="764.2" x2="988.2" y2="764.2" stroke="#000" stroke-width="1.9"/>
<text x="973.6" y="772.2" font-size="22.5" text-anchor="end">40</text>
<line x1="977.9" y1="716.6" x2="988.2" y2="716.6" stroke="#000" stroke-width="1.9"/>
<text x="973.6" y="724.6" font-size="22.5" text-anchor="end">50</text>
<line x1="977.9" y1="668.9" x2="988.2" y2="668.9" stroke="#000" stroke-width="1.9"/>
<text x="973.6" y="676.9" font-size="22.5" text-anchor="end">60</text>
<line x1="977.9" y1="621.3" x2="988.2" y2="621.3" stroke="#000" stroke-width="1.9"/>
<text x="973.6" y="629.3" font-size="22.5" text-anchor="end">70</text>
<line x1="977.9" y1="573.6" x2="988.2" y2="573.6" stroke="#000" stroke-width="1.9"/>
<text x="973.6" y="581.6" font-size="22.5" text-anchor="end">80</text>
<line x1="1015.8" y1="811.9" x2="1015.8" y2="822.9" stroke="#000" stroke-width="1.9"/>
<text font-size="22.4" text-anchor="end" transform="translate(1017 841.1) rotate(-30)">Saline</text>
<line x1="1058.13" y1="811.9" x2="1058.13" y2="822.9" stroke="#000" stroke-width="1.9"/>
<text font-size="22.4" text-anchor="end" transform="translate(1055.93 840.6) rotate(-30)">OVA</text>
<line x1="1100.47" y1="811.9" x2="1100.47" y2="822.9" stroke="#000" stroke-width="1.9"/>
<text font-size="22.4" text-anchor="end" transform="translate(1103.37 841.1) rotate(-30)">PVP@Pt</text>
<line x1="1142.8" y1="811.9" x2="1142.8" y2="822.9" stroke="#000" stroke-width="1.9"/>
<text font-size="22.4" text-anchor="end" transform="translate(1151.6 841.1) rotate(-30)">PEG-b-PAE</text>
<line x1="1185.13" y1="811.9" x2="1185.13" y2="822.9" stroke="#000" stroke-width="1.9"/>
<text font-size="22.4" text-anchor="end" transform="translate(1210.03 841.1) rotate(-30)">DP@Pt-OVA</text>
<line x1="1227.47" y1="811.9" x2="1227.47" y2="822.9" stroke="#000" stroke-width="1.9"/>
<text font-size="22.4" text-anchor="end" transform="translate(1262.57 841.1) rotate(-30)">OVA+R848</text>
<line x1="1269.8" y1="811.9" x2="1269.8" y2="822.9" stroke="#000" stroke-width="1.9"/>
<text font-size="22.4" text-anchor="end" transform="translate(1307.4 841.1) rotate(-30)">PP@Pt-OVA</text>
<path d="M1018.3 782 L1018.3 688.3 L1100.8 688.3" stroke="#000" stroke-width="1.9" fill="none" stroke-linejoin="miter"/>
<path d="M1100.8 713.8 L1100.8 611.7 L1270.6 611.7 L1270.6 660.1" stroke="#000" stroke-width="1.9" fill="none" stroke-linejoin="miter"/>
<path d="M1270.6 682.6 L1270.6 695" stroke="#000" stroke-width="1.9" fill="none" stroke-linejoin="miter"/>
<path d="M1185.6 660.1 L1185.6 647.4 L1270.6 647.4" stroke="#000" stroke-width="1.9" fill="none" stroke-linejoin="miter"/>
<path d="M1185.6 687.6 L1185.6 734.4" stroke="#000" stroke-width="1.9" fill="none" stroke-linejoin="miter"/>
<path d="M1225.5 695 L1225.5 683.2 L1270.6 683.2" stroke="#000" stroke-width="1.9" fill="none" stroke-linejoin="miter"/>
<text x="1002.8" y="598.2" font-size="22.3">LN</text>
<text x="1137.2" y="604.9" font-size="22.3"><tspan class="it">P</tspan>=0.0004</text>
<text x="1173" y="641.7" font-size="22.3"><tspan class="it">P</tspan>&lt;0.0001</text>
<text x="1173" y="679.8" font-size="22.3"><tspan class="it">P</tspan>=0.0039</text>
<text x="1001" y="682.5" font-size="22.3"><tspan class="it">P</tspan>&lt;0.0001</text>
<text font-size="22.6" transform="translate(938.2 805.31) rotate(-90)" textLength="43.03" lengthAdjust="spacingAndGlyphs">CD8</text>
<text font-size="14" transform="translate(925.9 762.53) rotate(-90)" font-weight="bold">+</text>
<text font-size="22.6" transform="translate(938.2 748.02) rotate(-90)" textLength="68.07" lengthAdjust="spacingAndGlyphs">in CD3</text>
<text font-size="14" transform="translate(925.9 680.01) rotate(-90)" font-weight="bold">+</text>
<text font-size="22.6" transform="translate(938.2 670.5) rotate(-90)" textLength="88.27" lengthAdjust="spacingAndGlyphs">cells (%)</text>
<text x="4.8" y="961.6" font-size="36.8" class="lab">H</text>
<path d="M101.7 1230.5V1081.68H130.1V1230.5" stroke="#9b8cc4" stroke-width="2.9" fill="none"/>
<path d="M115.9 1073.65V1086.82M110.4 1073.65H121.4M110.4 1086.82H121.4" stroke="#9b8cc4" stroke-width="1.5" fill="none"/>
<circle cx="105.9" cy="1075.8" r="4.45" fill="#9b8cc4"/>
<circle cx="125.9" cy="1077.1" r="4.45" fill="#9b8cc4"/>
<circle cx="115.9" cy="1087.8" r="4.45" fill="#9b8cc4"/>
<path d="M147.7 1230.5V1124.35H176.1V1230.5" stroke="#d9ddef" stroke-width="2.9" fill="none"/>
<path d="M161.9 1118.25V1127.55M156.4 1118.25H167.4M156.4 1127.55H167.4" stroke="#d9ddef" stroke-width="1.5" fill="none"/>
<circle cx="151.9" cy="1127.6" r="4.45" fill="#d9ddef"/>
<circle cx="161.9" cy="1118.3" r="4.45" fill="#d9ddef"/>
<circle cx="171.9" cy="1122.8" r="4.45" fill="#d9ddef"/>
<path d="M193.7 1230.5V1155.72H222.1V1230.5" stroke="#7ab0a6" stroke-width="2.9" fill="none"/>
<path d="M207.9 1133V1175.54M202.4 1133H213.4M202.4 1175.54H213.4" stroke="#7ab0a6" stroke-width="1.5" fill="none"/>
<circle cx="197.9" cy="1138.7" r="4.45" fill="#7ab0a6"/>
<circle cx="217.9" cy="1145.6" r="4.45" fill="#7ab0a6"/>
<circle cx="207.9" cy="1178.5" r="4.45" fill="#7ab0a6"/>
<path d="M239.7 1230.5V1131.48H268.1V1230.5" stroke="#f6c8aa" stroke-width="2.9" fill="none"/>
<path d="M253.9 1121.79V1138.28M248.4 1121.79H259.4M248.4 1138.28H259.4" stroke="#f6c8aa" stroke-width="1.5" fill="none"/>
<circle cx="243.9" cy="1124.4" r="4.45" fill="#f6c8aa"/>
<circle cx="263.9" cy="1126.2" r="4.45" fill="#f6c8aa"/>
<circle cx="253.9" cy="1139.5" r="4.45" fill="#f6c8aa"/>
<path d="M285.7 1230.5V1150.25H314.1V1230.5" stroke="#99cce8" stroke-width="2.9" fill="none"/>
<path d="M299.9 1146.7V1150.9M294.4 1146.7H305.4M294.4 1150.9H305.4" stroke="#99cce8" stroke-width="1.5" fill="none"/>
<circle cx="289.9" cy="1150.9" r="4.45" fill="#99cce8"/>
<circle cx="299.9" cy="1146.7" r="4.45" fill="#99cce8"/>
<circle cx="309.9" cy="1148.8" r="4.45" fill="#99cce8"/>
<path d="M331.7 1230.5V1171.22H360.1V1230.5" stroke="#ddd9d4" stroke-width="2.9" fill="none"/>
<path d="M345.9 1162.91V1176.62M340.4 1162.91H351.4M340.4 1176.62H351.4" stroke="#ddd9d4" stroke-width="1.5" fill="none"/>
<circle cx="335.9" cy="1175.3" r="4.45" fill="#ddd9d4"/>
<circle cx="345.9" cy="1162.1" r="4.45" fill="#ddd9d4"/>
<circle cx="355.9" cy="1171.9" r="4.45" fill="#ddd9d4"/>
<path d="M377.7 1230.5V1201.02H406.1V1230.5" stroke="#5a5a5a" stroke-width="2.9" fill="none"/>
<path d="M391.9 1195.29V1203.84M386.4 1195.29H397.4M386.4 1203.84H397.4" stroke="#5a5a5a" stroke-width="1.5" fill="none"/>
<circle cx="381.9" cy="1204.5" r="4.45" fill="#5a5a5a"/>
<circle cx="391.9" cy="1197.1" r="4.45" fill="#5a5a5a"/>
<circle cx="401.9" cy="1197.1" r="4.45" fill="#5a5a5a"/>
<rect x="84.7" y="971.4" width="338.4" height="259.1" fill="none" stroke="#000" stroke-width="1.9"/>
<line x1="74.4" y1="1230.5" x2="84.7" y2="1230.5" stroke="#000" stroke-width="1.9"/>
<text x="65.6" y="1232.7" font-size="22.5" text-anchor="end">40</text>
<line x1="74.4" y1="1165.7" x2="84.7" y2="1165.7" stroke="#000" stroke-width="1.9"/>
<text x="65.6" y="1169.5" font-size="22.5" text-anchor="end">50</text>
<line x1="74.4" y1="1101" x2="84.7" y2="1101" stroke="#000" stroke-width="1.9"/>
<text x="65.6" y="1106.6" font-size="22.5" text-anchor="end">60</text>
<line x1="74.4" y1="1036.2" x2="84.7" y2="1036.2" stroke="#000" stroke-width="1.9"/>
<text x="65.6" y="1043.8" font-size="22.5" text-anchor="end">70</text>
<line x1="74.4" y1="971.4" x2="84.7" y2="971.4" stroke="#000" stroke-width="1.9"/>
<text x="65.6" y="980.2" font-size="22.5" text-anchor="end">80</text>
<line x1="115.3" y1="1230.5" x2="115.3" y2="1241.5" stroke="#000" stroke-width="1.9"/>
<text font-size="22.4" text-anchor="end" transform="translate(122 1259.7) rotate(-30)">Saline</text>
<line x1="161.3" y1="1230.5" x2="161.3" y2="1241.5" stroke="#000" stroke-width="1.9"/>
<text font-size="22.4" text-anchor="end" transform="translate(160.9 1259.2) rotate(-30)">OVA</text>
<line x1="207.3" y1="1230.5" x2="207.3" y2="1241.5" stroke="#000" stroke-width="1.9"/>
<text font-size="22.4" text-anchor="end" transform="translate(208 1259.7) rotate(-30)">PVP@Pt</text>
<line x1="253.3" y1="1230.5" x2="253.3" y2="1241.5" stroke="#000" stroke-width="1.9"/>
<text font-size="22.4" text-anchor="end" transform="translate(256.3 1259.7) rotate(-30)">PEG-b-PAE</text>
<line x1="299.3" y1="1230.5" x2="299.3" y2="1241.5" stroke="#000" stroke-width="1.9"/>
<text font-size="22.4" text-anchor="end" transform="translate(314.8 1259.7) rotate(-30)">DP@Pt-OVA</text>
<line x1="345.3" y1="1230.5" x2="345.3" y2="1241.5" stroke="#000" stroke-width="1.9"/>
<text font-size="22.4" text-anchor="end" transform="translate(366.3 1259.7) rotate(-30)">OVA+R848</text>
<line x1="391.3" y1="1230.5" x2="391.3" y2="1241.5" stroke="#000" stroke-width="1.9"/>
<text font-size="22.4" text-anchor="end" transform="translate(411.6 1259.7) rotate(-30)">PP@Pt-OVA</text>
<path d="M115.3 1061.8 L115.3 1031.9 L207.6 1031.9" stroke="#000" stroke-width="1.9" fill="none" stroke-linejoin="miter"/>
<path d="M207.6 1082 L207.6 1031.9" stroke="#000" stroke-width="1.9" fill="none" stroke-linejoin="miter"/>
<path d="M207.6 1046.3 L391.2 1046.3 L391.2 1180.5" stroke="#000" stroke-width="1.9" fill="none" stroke-linejoin="miter"/>
<path d="M299.4 1139 L299.4 1079.6 L391.2 1079.6" stroke="#000" stroke-width="1.9" fill="none" stroke-linejoin="miter"/>
<path d="M345 1150.2 L345 1127.5 L391.2 1127.5" stroke="#000" stroke-width="1.9" fill="none" stroke-linejoin="miter"/>
<text x="101.7" y="1001" font-size="22.7">LN</text>
<text x="108.5" y="1027.5" font-size="22.7"><tspan class="it">P</tspan>&lt;0.0001</text>
<text x="256.6" y="1038.4" font-size="22.7"><tspan class="it">P</tspan>=0.0001</text>
<text x="275.2" y="1071" font-size="22.7"><tspan class="it">P</tspan>&lt;0.0001</text>
<text x="302.6" y="1121.7" font-size="22.7"><tspan class="it">P</tspan>=0.0003</text>
<text font-size="22.6" transform="translate(30.2 1204.15) rotate(-90)" textLength="42.17" lengthAdjust="spacingAndGlyphs">CD4</text>
<text font-size="14" transform="translate(17.9 1161.6) rotate(-90)" font-weight="bold">+</text>
<text font-size="22.6" transform="translate(30.2 1147.37) rotate(-90)" textLength="66.72" lengthAdjust="spacingAndGlyphs">in CD3</text>
<text font-size="14" transform="translate(17.9 1075.88) rotate(-90)" font-weight="bold">+</text>
<text font-size="22.6" transform="translate(30.2 1063.64) rotate(-90)" textLength="86.58" lengthAdjust="spacingAndGlyphs">cells (%)</text>
<text x="456.3" y="961.6" font-size="36.8" class="lab">I</text>
<path d="M551.15 1225.6V1200.68H578.85V1225.6" stroke="#9b8cc4" stroke-width="2.9" fill="none"/>
<circle cx="555" cy="1200.3" r="4.45" fill="#9b8cc4"/>
<circle cx="565" cy="1198.2" r="4.45" fill="#9b8cc4"/>
<circle cx="575" cy="1199.2" r="4.45" fill="#9b8cc4"/>
<path d="M596.35 1225.6V1187.08H624.05V1225.6" stroke="#d9ddef" stroke-width="2.9" fill="none"/>
<path d="M610.2 1173.5V1197.76M604.7 1173.5H615.7M604.7 1197.76H615.7" stroke="#d9ddef" stroke-width="1.5" fill="none"/>
<circle cx="600.2" cy="1177" r="4.45" fill="#d9ddef"/>
<circle cx="620.2" cy="1180.4" r="4.45" fill="#d9ddef"/>
<circle cx="610.2" cy="1199.5" r="4.45" fill="#d9ddef"/>
<path d="M641.55 1225.6V1183.52H669.25V1225.6" stroke="#7ab0a6" stroke-width="2.9" fill="none"/>
<path d="M655.4 1173V1191.14M649.9 1173H660.9M649.9 1191.14H660.9" stroke="#7ab0a6" stroke-width="1.5" fill="none"/>
<circle cx="655.4" cy="1171.6" r="4.45" fill="#7ab0a6"/>
<circle cx="645.4" cy="1187.6" r="4.45" fill="#7ab0a6"/>
<circle cx="665.4" cy="1187" r="4.45" fill="#7ab0a6"/>
<path d="M686.75 1225.6V1178.38H714.45V1225.6" stroke="#f6c8aa" stroke-width="2.9" fill="none"/>
<path d="M700.6 1164.74V1189.12M695.1 1164.74H706.1M695.1 1189.12H706.1" stroke="#f6c8aa" stroke-width="1.5" fill="none"/>
<circle cx="690.6" cy="1169.5" r="4.45" fill="#f6c8aa"/>
<circle cx="710.6" cy="1170.3" r="4.45" fill="#f6c8aa"/>
<circle cx="700.6" cy="1191" r="4.45" fill="#f6c8aa"/>
<path d="M731.95 1225.6V1196.52H759.65V1225.6" stroke="#99cce8" stroke-width="2.9" fill="none"/>
<path d="M745.8 1190.05V1200.08M740.3 1190.05H751.3M740.3 1200.08H751.3" stroke="#99cce8" stroke-width="1.5" fill="none"/>
<circle cx="735.8" cy="1200.8" r="4.45" fill="#99cce8"/>
<circle cx="745.8" cy="1191.5" r="4.45" fill="#99cce8"/>
<circle cx="755.8" cy="1192.9" r="4.45" fill="#99cce8"/>
<path d="M777.15 1225.6V1173.28H804.85V1225.6" stroke="#ddd9d4" stroke-width="2.9" fill="none"/>
<path d="M791 1148.55V1195.12M785.5 1148.55H796.5M785.5 1195.12H796.5" stroke="#ddd9d4" stroke-width="1.5" fill="none"/>
<circle cx="791" cy="1146.4" r="4.45" fill="#ddd9d4"/>
<circle cx="791" cy="1177" r="4.45" fill="#ddd9d4"/>
<circle cx="791" cy="1192.1" r="4.45" fill="#ddd9d4"/>
<path d="M822.35 1225.6V1162.68H850.05V1225.6" stroke="#5a5a5a" stroke-width="2.9" fill="none"/>
<path d="M836.2 1159.85V1162.62M830.7 1159.85H841.7M830.7 1162.62H841.7" stroke="#5a5a5a" stroke-width="1.5" fill="none"/>
<circle cx="826.2" cy="1162.4" r="4.45" fill="#5a5a5a"/>
<circle cx="836.2" cy="1159.7" r="4.45" fill="#5a5a5a"/>
<circle cx="846.2" cy="1161.6" r="4.45" fill="#5a5a5a"/>
<rect x="534.6" y="971.2" width="332" height="254.4" fill="none" stroke="#000" stroke-width="1.9"/>
<line x1="524.3" y1="1225.6" x2="534.6" y2="1225.6" stroke="#000" stroke-width="1.9"/>
<text x="518" y="1236.2" font-size="22.5" text-anchor="end">0</text>
<line x1="524.3" y1="1162" x2="534.6" y2="1162" stroke="#000" stroke-width="1.9"/>
<text x="518" y="1173" font-size="22.5" text-anchor="end">5</text>
<line x1="524.3" y1="1098.4" x2="534.6" y2="1098.4" stroke="#000" stroke-width="1.9"/>
<text x="518" y="1109.2" font-size="22.5" text-anchor="end">10</text>
<line x1="524.3" y1="1034.8" x2="534.6" y2="1034.8" stroke="#000" stroke-width="1.9"/>
<text x="518" y="1047" font-size="22.5" text-anchor="end">15</text>
<line x1="524.3" y1="971.2" x2="534.6" y2="971.2" stroke="#000" stroke-width="1.9"/>
<text x="518" y="979.6" font-size="22.5" text-anchor="end">20</text>
<line x1="564.4" y1="1225.6" x2="564.4" y2="1236.6" stroke="#000" stroke-width="1.9"/>
<text font-size="22.4" text-anchor="end" transform="translate(567.7 1254.8) rotate(-30)">Saline</text>
<line x1="609.6" y1="1225.6" x2="609.6" y2="1236.6" stroke="#000" stroke-width="1.9"/>
<text font-size="22.4" text-anchor="end" transform="translate(605.9 1254.3) rotate(-30)">OVA</text>
<line x1="654.8" y1="1225.6" x2="654.8" y2="1236.6" stroke="#000" stroke-width="1.9"/>
<text font-size="22.4" text-anchor="end" transform="translate(654.8 1254.8) rotate(-30)">PVP@Pt</text>
<line x1="700" y1="1225.6" x2="700" y2="1236.6" stroke="#000" stroke-width="1.9"/>
<text font-size="22.4" text-anchor="end" transform="translate(702.4 1254.8) rotate(-30)">PEG-b-PAE</text>
<line x1="745.2" y1="1225.6" x2="745.2" y2="1236.6" stroke="#000" stroke-width="1.9"/>
<text font-size="22.4" text-anchor="end" transform="translate(760.4 1254.8) rotate(-30)">DP@Pt-OVA</text>
<line x1="790.4" y1="1225.6" x2="790.4" y2="1236.6" stroke="#000" stroke-width="1.9"/>
<text font-size="22.4" text-anchor="end" transform="translate(811.7 1254.8) rotate(-30)">OVA+R848</text>
<line x1="835.6" y1="1225.6" x2="835.6" y2="1236.6" stroke="#000" stroke-width="1.9"/>
<text font-size="22.4" text-anchor="end" transform="translate(856.2 1254.8) rotate(-30)">PP@Pt-OVA</text>
<path d="M562.3 1193 L562.3 1021.3 L835.2 1021.3 L835.2 1136" stroke="#000" stroke-width="1.9" fill="none" stroke-linejoin="miter"/>
<path d="M745.2 1136 L745.2 1061.8 L835.2 1061.8" stroke="#000" stroke-width="1.9" fill="none" stroke-linejoin="miter"/>
<path d="M789.9 1127.8 L789.9 1102.6 L835.2 1102.6" stroke="#000" stroke-width="1.9" fill="none" stroke-linejoin="miter"/>
<text x="546" y="997.8" font-size="22.6">Spleen</text>
<text x="647.3" y="1016.6" font-size="22.6"><tspan class="it">P</tspan>=0.0157</text>
<text x="714.2" y="1053.7" font-size="22.6"><tspan class="it">P</tspan>=0.0351</text>
<text x="800" y="1089.6" font-size="22.6">ns</text>
<text font-size="22.6" transform="translate(479.6 1191.52) rotate(-90)" textLength="44.89" lengthAdjust="spacingAndGlyphs">CD8</text>
<text font-size="14" transform="translate(467.3 1146.52) rotate(-90)" font-weight="bold">+</text>
<text font-size="22.6" transform="translate(483.4 1132.26) rotate(-90)" textLength="14.59" lengthAdjust="spacingAndGlyphs">T</text>
<text font-size="13.5" transform="translate(484.5 1114.51) rotate(-90)" textLength="20.51" lengthAdjust="spacingAndGlyphs">EM</text>
<text font-size="22.6" transform="translate(479.6 1090.62) rotate(-90)" textLength="86.58" lengthAdjust="spacingAndGlyphs">cells (%)</text>
<text x="897.8" y="961.6" font-size="36.8" class="lab">J</text>
<path d="M989.9 1222.4V1207.48H1018.3V1222.4" stroke="#9b8cc4" stroke-width="2.9" fill="none"/>
<path d="M1004.1 1199.27V1212.8M998.6 1199.27H1009.6M998.6 1212.8H1009.6" stroke="#9b8cc4" stroke-width="1.5" fill="none"/>
<circle cx="994.1" cy="1200.1" r="4.45" fill="#9b8cc4"/>
<circle cx="1014.1" cy="1204.6" r="4.45" fill="#9b8cc4"/>
<circle cx="994.1" cy="1213.4" r="4.45" fill="#9b8cc4"/>
<path d="M1034.78 1222.4V1187.95H1063.18V1222.4" stroke="#d9ddef" stroke-width="2.9" fill="none"/>
<path d="M1048.98 1166.36V1206.64M1043.48 1166.36H1054.48M1043.48 1206.64H1054.48" stroke="#d9ddef" stroke-width="1.5" fill="none"/>
<circle cx="1048.98" cy="1164.3" r="4.45" fill="#d9ddef"/>
<circle cx="1048.98" cy="1191.6" r="4.45" fill="#d9ddef"/>
<circle cx="1048.98" cy="1203.6" r="4.45" fill="#d9ddef"/>
<path d="M1079.67 1222.4V1186.88H1108.07V1222.4" stroke="#7ab0a6" stroke-width="2.9" fill="none"/>
<path d="M1093.87 1176.12V1194.74M1088.37 1176.12H1099.37M1088.37 1194.74H1099.37" stroke="#7ab0a6" stroke-width="1.5" fill="none"/>
<circle cx="1083.87" cy="1176.8" r="4.45" fill="#7ab0a6"/>
<circle cx="1103.87" cy="1184.2" r="4.45" fill="#7ab0a6"/>
<circle cx="1093.87" cy="1195.3" r="4.45" fill="#7ab0a6"/>
<path d="M1124.55 1222.4V1183.45H1152.95V1222.4" stroke="#f6c8aa" stroke-width="2.9" fill="none"/>
<path d="M1138.75 1176.48V1187.52M1133.25 1176.48H1144.25M1133.25 1187.52H1144.25" stroke="#f6c8aa" stroke-width="1.5" fill="none"/>
<circle cx="1128.75" cy="1188.2" r="4.45" fill="#f6c8aa"/>
<circle cx="1138.75" cy="1177.6" r="4.45" fill="#f6c8aa"/>
<circle cx="1148.75" cy="1180.2" r="4.45" fill="#f6c8aa"/>
<path d="M1169.43 1222.4V1178.48H1197.83V1222.4" stroke="#99cce8" stroke-width="2.9" fill="none"/>
<path d="M1183.63 1171.02V1183.05M1178.13 1171.02H1189.13M1178.13 1183.05H1189.13" stroke="#99cce8" stroke-width="1.5" fill="none"/>
<circle cx="1173.63" cy="1180.8" r="4.45" fill="#99cce8"/>
<circle cx="1183.63" cy="1170.1" r="4.45" fill="#99cce8"/>
<circle cx="1193.63" cy="1180.2" r="4.45" fill="#99cce8"/>
<path d="M1214.32 1222.4V1158.28H1242.72V1222.4" stroke="#ddd9d4" stroke-width="2.9" fill="none"/>
<path d="M1228.52 1142.96V1170.71M1223.02 1142.96H1234.02M1223.02 1170.71H1234.02" stroke="#ddd9d4" stroke-width="1.5" fill="none"/>
<circle cx="1228.52" cy="1141.2" r="4.45" fill="#ddd9d4"/>
<circle cx="1218.52" cy="1167.7" r="4.45" fill="#ddd9d4"/>
<circle cx="1238.52" cy="1161.6" r="4.45" fill="#ddd9d4"/>
<path d="M1259.2 1222.4V1138.15H1287.6V1222.4" stroke="#5a5a5a" stroke-width="2.9" fill="none"/>
<path d="M1273.4 1129.81V1143.59M1267.9 1129.81H1278.9M1267.9 1143.59H1278.9" stroke="#5a5a5a" stroke-width="1.5" fill="none"/>
<circle cx="1263.4" cy="1131.1" r="4.45" fill="#5a5a5a"/>
<circle cx="1283.4" cy="1134.6" r="4.45" fill="#5a5a5a"/>
<circle cx="1263.4" cy="1144.4" r="4.45" fill="#5a5a5a"/>
<rect x="973.5" y="971.9" width="330.1" height="250.5" fill="none" stroke="#000" stroke-width="1.9"/>
<line x1="963.2" y1="1187.1" x2="973.5" y2="1187.1" stroke="#000" stroke-width="1.9"/>
<text x="958.6" y="1195.1" font-size="22.5" text-anchor="end">20</text>
<line x1="963.2" y1="1115.4" x2="973.5" y2="1115.4" stroke="#000" stroke-width="1.9"/>
<text x="958.6" y="1123.4" font-size="22.5" text-anchor="end">30</text>
<line x1="963.2" y1="1043.6" x2="973.5" y2="1043.6" stroke="#000" stroke-width="1.9"/>
<text x="958.6" y="1051.6" font-size="22.5" text-anchor="end">40</text>
<line x1="963.2" y1="971.9" x2="973.5" y2="971.9" stroke="#000" stroke-width="1.9"/>
<text x="958.6" y="979.9" font-size="22.5" text-anchor="end">50</text>
<line x1="1003.5" y1="1222.4" x2="1003.5" y2="1233.4" stroke="#000" stroke-width="1.9"/>
<text font-size="22.4" text-anchor="end" transform="translate(1003.5 1256) rotate(-30)">Saline</text>
<line x1="1048.38" y1="1222.4" x2="1048.38" y2="1233.4" stroke="#000" stroke-width="1.9"/>
<text font-size="22.4" text-anchor="end" transform="translate(1042.38 1255.5) rotate(-30)">OVA</text>
<line x1="1093.27" y1="1222.4" x2="1093.27" y2="1233.4" stroke="#000" stroke-width="1.9"/>
<text font-size="22.4" text-anchor="end" transform="translate(1091.07 1256) rotate(-30)">PVP@Pt</text>
<line x1="1138.15" y1="1222.4" x2="1138.15" y2="1233.4" stroke="#000" stroke-width="1.9"/>
<text font-size="22.4" text-anchor="end" transform="translate(1137.55 1256) rotate(-30)">PEG-b-PAE</text>
<line x1="1183.03" y1="1222.4" x2="1183.03" y2="1233.4" stroke="#000" stroke-width="1.9"/>
<text font-size="22.4" text-anchor="end" transform="translate(1195.23 1256) rotate(-30)">DP@Pt-OVA</text>
<line x1="1227.92" y1="1222.4" x2="1227.92" y2="1233.4" stroke="#000" stroke-width="1.9"/>
<text font-size="22.4" text-anchor="end" transform="translate(1248.32 1256) rotate(-30)">OVA+R848</text>
<line x1="1272.8" y1="1222.4" x2="1272.8" y2="1233.4" stroke="#000" stroke-width="1.9"/>
<text font-size="22.4" text-anchor="end" transform="translate(1292.7 1256) rotate(-30)">PP@Pt-OVA</text>
<path d="M1003.5 1172.8 L1003.5 1144.8 L1093.5 1144.8" stroke="#000" stroke-width="1.9" fill="none" stroke-linejoin="miter"/>
<path d="M1093.5 1172.5 L1093.5 1018.7 L1272.8 1018.7 L1272.8 1124.1" stroke="#000" stroke-width="1.9" fill="none" stroke-linejoin="miter"/>
<path d="M1183.1 1159 L1183.1 1055.1 L1272.8 1055.1" stroke="#000" stroke-width="1.9" fill="none" stroke-linejoin="miter"/>
<path d="M1228 1124.1 L1228 1097.1 L1272.8 1097.1" stroke="#000" stroke-width="1.9" fill="none" stroke-linejoin="miter"/>
<text x="989.1" y="997.6" font-size="21.8">Spleen</text>
<text x="1140" y="1011.9" font-size="21.8"><tspan class="it">P</tspan>=0.0003</text>
<text x="1159.4" y="1046" font-size="21.8"><tspan class="it">P</tspan>=0.0014</text>
<text x="1234.9" y="1090.2" font-size="21.8">ns</text>
<text x="994.2" y="1131.1" font-size="21.8"><tspan class="it">P</tspan>=0.031</text>
<text font-size="22.6" transform="translate(919.6 1183.56) rotate(-90)" textLength="43.83" lengthAdjust="spacingAndGlyphs">CD4</text>
<text font-size="14" transform="translate(907.3 1137.79) rotate(-90)" font-weight="bold">+</text>
<text font-size="22.6" transform="translate(923.4 1121.91) rotate(-90)" textLength="13.73" lengthAdjust="spacingAndGlyphs">T</text>
<text font-size="13.5" transform="translate(924.5 1108.16) rotate(-90)" textLength="20.51" lengthAdjust="spacingAndGlyphs">EM</text>
<text font-size="22.6" transform="translate(919.6 1077.12) rotate(-90)" textLength="85.76" lengthAdjust="spacingAndGlyphs">cells (%)</text>
<text x="4.3" y="1390.9" font-size="36.8" class="lab">K</text>
<path d="M109.75 1636.2V1594.72H136.05V1636.2" stroke="#9b8cc4" stroke-width="2.9" fill="none"/>
<path d="M122.9 1583.69V1602.84M117.4 1583.69H128.4M117.4 1602.84H128.4" stroke="#9b8cc4" stroke-width="1.5" fill="none"/>
<circle cx="113.5" cy="1584.1" r="4.45" fill="#9b8cc4"/>
<circle cx="132.3" cy="1592.5" r="4.45" fill="#9b8cc4"/>
<circle cx="113.5" cy="1603.2" r="4.45" fill="#9b8cc4"/>
<path d="M152.95 1636.2V1603.98H179.25V1636.2" stroke="#d9ddef" stroke-width="2.9" fill="none"/>
<path d="M166.1 1599.79V1605.28M160.6 1599.79H171.6M160.6 1605.28H171.6" stroke="#d9ddef" stroke-width="1.5" fill="none"/>
<circle cx="156.7" cy="1604.5" r="4.45" fill="#d9ddef"/>
<circle cx="166.1" cy="1599.4" r="4.45" fill="#d9ddef"/>
<circle cx="175.5" cy="1603.7" r="4.45" fill="#d9ddef"/>
<path d="M196.15 1636.2V1590.15H222.45V1636.2" stroke="#7ab0a6" stroke-width="2.9" fill="none"/>
<path d="M209.3 1581.37V1596.03M203.8 1581.37H214.8M203.8 1596.03H214.8" stroke="#7ab0a6" stroke-width="1.5" fill="none"/>
<circle cx="209.3" cy="1580.3" r="4.45" fill="#7ab0a6"/>
<circle cx="209.3" cy="1593.8" r="4.45" fill="#7ab0a6"/>
<circle cx="209.3" cy="1592" r="4.45" fill="#7ab0a6"/>
<path d="M239.35 1636.2V1594.15H265.65V1636.2" stroke="#f6c8aa" stroke-width="2.9" fill="none"/>
<path d="M252.5 1585.56V1599.84M247 1585.56H258M247 1599.84H258" stroke="#f6c8aa" stroke-width="1.5" fill="none"/>
<circle cx="243.1" cy="1584.9" r="4.45" fill="#f6c8aa"/>
<circle cx="261.9" cy="1594.3" r="4.45" fill="#f6c8aa"/>
<circle cx="243.1" cy="1598.9" r="4.45" fill="#f6c8aa"/>
<path d="M282.55 1636.2V1589.38H308.85V1636.2" stroke="#99cce8" stroke-width="2.9" fill="none"/>
<path d="M295.7 1565.9V1609.97M290.2 1565.9H301.2M290.2 1609.97H301.2" stroke="#99cce8" stroke-width="1.5" fill="none"/>
<circle cx="295.7" cy="1562.5" r="4.45" fill="#99cce8"/>
<circle cx="286.3" cy="1601.2" r="4.45" fill="#99cce8"/>
<circle cx="305.1" cy="1600.1" r="4.45" fill="#99cce8"/>
<path d="M325.75 1636.2V1582.48H352.05V1636.2" stroke="#ddd9d4" stroke-width="2.9" fill="none"/>
<path d="M338.9 1576.56V1585.51M333.4 1576.56H344.4M333.4 1585.51H344.4" stroke="#ddd9d4" stroke-width="1.5" fill="none"/>
<circle cx="329.5" cy="1586.2" r="4.45" fill="#ddd9d4"/>
<circle cx="338.9" cy="1578.3" r="4.45" fill="#ddd9d4"/>
<circle cx="348.3" cy="1578.6" r="4.45" fill="#ddd9d4"/>
<path d="M368.95 1636.2V1539.85H395.25V1636.2" stroke="#5a5a5a" stroke-width="2.9" fill="none"/>
<path d="M382.1 1510.87V1565.93M376.6 1510.87H387.6M376.6 1565.93H387.6" stroke="#5a5a5a" stroke-width="1.5" fill="none"/>
<circle cx="382.1" cy="1508.4" r="4.45" fill="#5a5a5a"/>
<circle cx="382.1" cy="1544.3" r="4.45" fill="#5a5a5a"/>
<circle cx="382.1" cy="1562.5" r="4.45" fill="#5a5a5a"/>
<rect x="93.2" y="1392.8" width="317" height="243.4" fill="none" stroke="#000" stroke-width="1.9"/>
<line x1="82.9" y1="1636.2" x2="93.2" y2="1636.2" stroke="#000" stroke-width="1.9"/>
<text x="80.3" y="1644.2" font-size="22.5" text-anchor="end">0</text>
<line x1="82.9" y1="1555.1" x2="93.2" y2="1555.1" stroke="#000" stroke-width="1.9"/>
<text x="80.3" y="1563.1" font-size="22.5" text-anchor="end">10</text>
<line x1="82.9" y1="1473.9" x2="93.2" y2="1473.9" stroke="#000" stroke-width="1.9"/>
<text x="80.3" y="1481.9" font-size="22.5" text-anchor="end">20</text>
<line x1="82.9" y1="1392.8" x2="93.2" y2="1392.8" stroke="#000" stroke-width="1.9"/>
<text x="80.3" y="1400.8" font-size="22.5" text-anchor="end">30</text>
<line x1="122.3" y1="1636.2" x2="122.3" y2="1647.2" stroke="#000" stroke-width="1.9"/>
<text font-size="22.4" text-anchor="end" transform="translate(122.9 1665.4) rotate(-30)">Saline</text>
<line x1="165.5" y1="1636.2" x2="165.5" y2="1647.2" stroke="#000" stroke-width="1.9"/>
<text font-size="22.4" text-anchor="end" transform="translate(161.2 1664.9) rotate(-30)">OVA</text>
<line x1="208.7" y1="1636.2" x2="208.7" y2="1647.2" stroke="#000" stroke-width="1.9"/>
<text font-size="22.4" text-anchor="end" transform="translate(209.7 1665.4) rotate(-30)">PVP@Pt</text>
<line x1="251.9" y1="1636.2" x2="251.9" y2="1647.2" stroke="#000" stroke-width="1.9"/>
<text font-size="22.4" text-anchor="end" transform="translate(257.3 1665.4) rotate(-30)">PEG-b-PAE</text>
<line x1="295.1" y1="1636.2" x2="295.1" y2="1647.2" stroke="#000" stroke-width="1.9"/>
<text font-size="22.4" text-anchor="end" transform="translate(314.9 1665.4) rotate(-30)">DP@Pt-OVA</text>
<line x1="338.3" y1="1636.2" x2="338.3" y2="1647.2" stroke="#000" stroke-width="1.9"/>
<text font-size="22.4" text-anchor="end" transform="translate(366.9 1665.4) rotate(-30)">OVA+R848</text>
<line x1="381.5" y1="1636.2" x2="381.5" y2="1647.2" stroke="#000" stroke-width="1.9"/>
<text font-size="22.4" text-anchor="end" transform="translate(412.4 1665.4) rotate(-30)">PP@Pt-OVA</text>
<path d="M122.3 1528 L122.3 1428 L383 1428 L383 1480" stroke="#000" stroke-width="1.9" fill="none" stroke-linejoin="miter"/>
<path d="M295.2 1538.3 L295.2 1468.6 L383 1468.6" stroke="#000" stroke-width="1.9" fill="none" stroke-linejoin="miter"/>
<path d="M337.5 1530.9 L337.5 1492.4 L381.8 1492.4 L381.8 1500.5" stroke="#000" stroke-width="1.9" fill="none" stroke-linejoin="miter"/>
<text x="105.8" y="1420.9" font-size="22.5">LN</text>
<text x="203.7" y="1420.9" font-size="22.5"><tspan class="it">P</tspan>=0.0228</text>
<text x="267.1" y="1460.1" font-size="22.5"><tspan class="it">P</tspan>=0.0391</text>
<text x="347.3" y="1488.4" font-size="22.5">ns</text>
<text font-size="22.6" transform="translate(38.3 1594.66) rotate(-90)" textLength="42.99" lengthAdjust="spacingAndGlyphs">CD4</text>
<text font-size="14" transform="translate(26 1550.7) rotate(-90)" font-weight="bold">+</text>
<text font-size="22.6" transform="translate(38.3 1536.06) rotate(-90)" textLength="13.22" lengthAdjust="spacingAndGlyphs">T</text>
<text font-size="13.5" transform="translate(43.2 1520.53) rotate(-90)" textLength="19.75" lengthAdjust="spacingAndGlyphs">EM</text>
<text font-size="22.6" transform="translate(43.2 1498.36) rotate(-90)" textLength="88.86" lengthAdjust="spacingAndGlyphs">cells (%)</text>
<text x="448" y="1391.5" font-size="36.8" class="lab">L</text>
<mask id="mS" maskUnits="userSpaceOnUse" x="459.8" y="1406.2" width="166" height="130.8"><rect x="459.8" y="1406.2" width="166" height="130.8" fill="#000"/><g filter="url(#bl4)" transform="translate(459.8 1406.2)"><ellipse cx="50" cy="32" rx="14" ry="8" fill="#fff"/><ellipse cx="20" cy="118" rx="22" ry="10" fill="#fff"/><ellipse cx="155" cy="92" rx="10" ry="12" fill="#fff"/></g></mask>
<g clip-path="url(#cl_sal)">
<rect x="459.8" y="1406.2" width="166" height="130.8" fill="#020326"/>
<rect x="459.8" y="1406.2" width="166" height="130.8" filter="url(#nB1)" opacity="0.95"/>
<g mask="url(#mS)"><rect x="459.8" y="1406.2" width="166" height="130.8" fill="#0a3a24" opacity="0.5"/></g>
</g>
<text x="467.2" y="1432.2" font-size="22.3" style="fill:#fff">Saline</text>
<rect x="606.6" y="1524.2" width="12.7" height="2.7" fill="#fff"/>
<mask id="mO" maskUnits="userSpaceOnUse" x="629.1" y="1406.2" width="165.9" height="130.8"><rect x="629.1" y="1406.2" width="165.9" height="130.8" fill="#000"/><g filter="url(#bl4)" transform="translate(629.1 1406.2)"><ellipse cx="46" cy="73" rx="28" ry="8" transform="rotate(-50 46 73)" fill="#fff"/></g></mask>
<g clip-path="url(#cl_ova)">
<rect x="629.1" y="1406.2" width="165.9" height="130.8" fill="#020326"/>
<rect x="629.1" y="1406.2" width="165.9" height="130.8" filter="url(#nB2)" opacity="0.95"/>
<g mask="url(#mO)"><rect x="629.1" y="1406.2" width="165.9" height="130.8" fill="#08302c" opacity="0.6"/><rect x="629.1" y="1406.2" width="165.9" height="130.8" filter="url(#nG2)"/></g>
<circle cx="760.5" cy="1503.5" r="1.8" fill="#35e0b0"/>
</g>
<text x="643.2" y="1432.2" font-size="22.3" style="fill:#fff">OVA</text>
<rect x="776.4" y="1525" width="12.5" height="2.7" fill="#fff"/>
<mask id="mP" maskUnits="userSpaceOnUse" x="798" y="1406.2" width="165.4" height="130.8"><rect x="798" y="1406.2" width="165.4" height="130.8" fill="#000"/><g filter="url(#bl4)" transform="translate(798 1406.2)"><path d="M42 28 L77 20 L116 14 L166 24 L166 120 L130 116 L114 127 L83 120 L77 95 L63 76 L41 68 L14 58 L21 47 Z" fill="#fff"/></g></mask>
<mask id="mPd" maskUnits="userSpaceOnUse" x="798" y="1406.2" width="165.4" height="130.8"><rect x="798" y="1406.2" width="165.4" height="130.8" fill="#000"/><g filter="url(#bl4)" transform="translate(798 1406.2)"><ellipse cx="82" cy="65" rx="11" ry="8" fill="#fff"/><path d="M1 62 L50 72 L90 80 L130 86 L166 89" stroke="#fff" stroke-width="6" fill="none"/><ellipse cx="104.5" cy="119" rx="7.5" ry="8" fill="#fff"/><ellipse cx="142" cy="101" rx="6" ry="5" fill="#fff"/><path d="M50 12 L110 10 L166 16" stroke="#fff" stroke-width="5" fill="none"/></g></mask>
<g clip-path="url(#cl_pvp)">
<rect x="798" y="1406.2" width="165.4" height="130.8" fill="#020326"/>
<rect x="798" y="1406.2" width="165.4" height="130.8" filter="url(#nB1)" opacity="0.95"/>
<g mask="url(#mP)"><rect x="798" y="1406.2" width="165.4" height="130.8" fill="#04180e" opacity="0.85"/><rect x="798" y="1406.2" width="165.4" height="130.8" filter="url(#nC1)" opacity="0.7"/><rect x="798" y="1406.2" width="165.4" height="130.8" filter="url(#nG1)" opacity="0.7"/></g>
<g mask="url(#mPd)"><rect x="798" y="1406.2" width="165.4" height="130.8" fill="#010405" opacity="0.92"/></g>
</g>
<text x="812" y="1432.2" font-size="22.3" style="fill:#fff">PVP@Pt</text>
<rect x="945.2" y="1524.3" width="13.2" height="3" fill="#fff"/>
<mask id="mE" maskUnits="userSpaceOnUse" x="459.8" y="1539.6" width="166" height="132"><rect x="459.8" y="1539.6" width="166" height="132" fill="#000"/><g filter="url(#bl4)" transform="translate(459.8 1539.6)"><ellipse cx="24" cy="42" rx="9" ry="18" fill="#fff"/><path d="M98 40 L115 30 L125 60 L128 95 L112 105 L95 90 L92 60 Z" fill="#fff"/></g></mask>
<mask id="mEd" maskUnits="userSpaceOnUse" x="459.8" y="1539.6" width="166" height="132"><rect x="459.8" y="1539.6" width="166" height="132" fill="#000"/><g filter="url(#bl7)" transform="translate(459.8 1539.6)"><ellipse cx="62" cy="72" rx="20" ry="25" fill="#fff"/><ellipse cx="14" cy="112" rx="16" ry="14" fill="#fff"/><ellipse cx="150" cy="20" rx="12" ry="14" fill="#fff"/></g></mask>
<g clip-path="url(#cl_peg)">
<rect x="459.8" y="1539.6" width="166" height="132" fill="#020326"/>
<rect x="459.8" y="1539.6" width="166" height="132" filter="url(#nB2)" opacity="0.95"/>
<g mask="url(#mEd)"><rect x="459.8" y="1539.6" width="166" height="132" fill="#02031c" opacity="0.6"/></g>
<g mask="url(#mE)"><rect x="459.8" y="1539.6" width="166" height="132" fill="#06200f" opacity="0.75"/><rect x="459.8" y="1539.6" width="166" height="132" filter="url(#nG1)" opacity="0.6"/></g>
</g>
<text x="465.4" y="1566.3" font-size="22.3" style="fill:#fff">PEG-b-PAE</text>
<rect x="605.8" y="1657.4" width="13.2" height="2.7" fill="#fff"/>
<mask id="mD" maskUnits="userSpaceOnUse" x="629.1" y="1539.6" width="165.9" height="132"><rect x="629.1" y="1539.6" width="165.9" height="132" fill="#000"/><g filter="url(#bl7)" transform="translate(629.1 1539.6)"><path d="M0 0 L70 0 L45 12 L0 26 Z" fill="#fff"/><path d="M166 0 L166 132 L0 132 L0 92 L40 82 L75 66 L100 40 L112 18 L100 0 Z" fill="#fff"/></g></mask>
<mask id="mDd" maskUnits="userSpaceOnUse" x="629.1" y="1539.6" width="165.9" height="132"><rect x="629.1" y="1539.6" width="165.9" height="132" fill="#000"/><g filter="url(#bl4)" transform="translate(629.1 1539.6)"><path d="M128 52 L148 56 L150 96 L140 100 L124 80 Z" fill="#fff"/><ellipse cx="92" cy="90" rx="8" ry="13" fill="#fff"/><ellipse cx="14" cy="104" rx="14" ry="9" fill="#fff"/><ellipse cx="62" cy="62" rx="10" ry="5" transform="rotate(-25 62 62)" fill="#fff"/></g></mask>
<g clip-path="url(#cl_dp)">
<rect x="629.1" y="1539.6" width="165.9" height="132" fill="#020326"/>
<rect x="629.1" y="1539.6" width="165.9" height="132" filter="url(#nB1)" opacity="0.95"/>
<g mask="url(#mD)"><rect x="629.1" y="1539.6" width="165.9" height="132" fill="#05180c" opacity="0.8"/><rect x="629.1" y="1539.6" width="165.9" height="132" filter="url(#nC1)" opacity="0.55"/><rect x="629.1" y="1539.6" width="165.9" height="132" filter="url(#nG2)" opacity="0.5"/></g>
<g mask="url(#mDd)"><rect x="629.1" y="1539.6" width="165.9" height="132" fill="#010503" opacity="0.92"/></g>
</g>
<text x="641" y="1566.3" font-size="22.3" style="fill:#fff">DP@Pt-OVA</text>
<rect x="772.4" y="1657.7" width="12.5" height="2.7" fill="#fff"/>
<mask id="mR" maskUnits="userSpaceOnUse" x="798" y="1539.6" width="165.4" height="132"><rect x="798" y="1539.6" width="165.4" height="132" fill="#000"/><g filter="url(#bl7)" transform="translate(798 1539.6)"><path d="M0 20 L30 30 L45 60 L40 95 L70 100 L105 85 L125 50 L150 30 L166 40 L166 132 L0 132 Z" fill="#fff"/></g></mask>
<g clip-path="url(#cl_r848)">
<rect x="798" y="1539.6" width="165.4" height="132" fill="#031208"/>
<g mask="url(#mR)"><rect x="798" y="1539.6" width="165.4" height="132" filter="url(#nC1)" opacity="0.6"/><rect x="798" y="1539.6" width="165.4" height="132" filter="url(#nB2)" opacity="0.3"/></g>
<g opacity="0.18"><rect x="798" y="1539.6" width="165.4" height="132" filter="url(#nG1)"/></g>
<ellipse cx="955" cy="1632" rx="9" ry="22" fill="#010402" opacity="0.85" filter="url(#bl4)"/>
<ellipse cx="828" cy="1638" rx="6" ry="8" fill="#010402" opacity="0.8" filter="url(#bl4)"/>
</g>
<text x="806.8" y="1565.5" font-size="22.3" style="fill:#fff">OVA+R848</text>
<rect x="941.6" y="1658.3" width="12.8" height="3" fill="#fff"/>
<mask id="mPb" maskUnits="userSpaceOnUse" x="967.7" y="1406.2" width="346.6" height="265.4"><rect x="967.7" y="1406.2" width="346.6" height="265.4" fill="#000"/><g filter="url(#bl4)" transform="translate(967.7 1406.2)"><path d="M226 -5 L328 -5 L319 35 L300 84 L278 124 L254 163 L224 192 L190 203 L180 184 L199 141 L207 103 L213 62 L218 26 Z" fill="#fff"/><path d="M305 270 L313 225 L330 184 L350 155 L350 270 Z" fill="#fff"/></g></mask>
<mask id="mPg" maskUnits="userSpaceOnUse" x="967.7" y="1406.2" width="346.6" height="265.4"><rect x="967.7" y="1406.2" width="346.6" height="265.4" fill="#fff"/><g filter="url(#bl7)" transform="translate(967.7 1406.2)"><path d="M226 -5 L328 -5 L319 35 L300 84 L278 124 L254 163 L224 192 L190 203 L180 184 L199 141 L207 103 L213 62 L218 26 Z" fill="#000"/><path d="M305 270 L313 225 L330 184 L350 155 L350 270 Z" fill="#000"/></g></mask>
<mask id="mPe" maskUnits="userSpaceOnUse" x="967.7" y="1406.2" width="346.6" height="265.4"><rect x="967.7" y="1406.2" width="346.6" height="265.4" fill="#000"/><g filter="url(#bl12)" transform="translate(967.7 1406.2)"><path d="M200 0 L215 40 L205 100 L195 145 L175 190 L150 230 L120 266" stroke="#fff" stroke-width="46" fill="none"/><path d="M340 40 L320 90 L295 140 L270 180 L240 215 L215 240" stroke="#fff" stroke-width="40" fill="none"/><path d="M0 200 L40 230 L90 250" stroke="#fff" stroke-width="40" fill="none"/><path d="M0 20 L60 40 L120 30" stroke="#fff" stroke-width="30" fill="none"/></g></mask>
<mask id="mPd2" maskUnits="userSpaceOnUse" x="967.7" y="1406.2" width="346.6" height="265.4"><rect x="967.7" y="1406.2" width="346.6" height="265.4" fill="#000"/><g filter="url(#bl4)" transform="translate(967.7 1406.2)"><ellipse cx="14" cy="40" rx="15" ry="28" fill="#fff"/><ellipse cx="52" cy="220" rx="13" ry="20" fill="#fff"/><ellipse cx="138" cy="241" rx="11" ry="12" fill="#fff"/><path d="M222 20 L214 70 L203 120 L188 160 L176 186 L186 205 L215 200" stroke="#fff" stroke-width="11" fill="none"/><path d="M322 30 L305 80 L285 120" stroke="#fff" stroke-width="7" fill="none"/><ellipse cx="40" cy="6" rx="40" ry="8" fill="#fff"/><ellipse cx="300" cy="215" rx="8" ry="30" transform="rotate(25 300 215)" fill="#fff"/></g></mask>
<g clip-path="url(#cl_pp)">
<rect x="967.7" y="1406.2" width="346.6" height="265.4" fill="#082a0d"/>
<g mask="url(#mPg)"><rect x="967.7" y="1406.2" width="346.6" height="265.4" fill="#0e3d16" opacity="0.5"/><rect x="967.7" y="1406.2" width="346.6" height="265.4" filter="url(#nGb)" opacity="0.9"/></g>
<g mask="url(#mPe)"><rect x="967.7" y="1406.2" width="346.6" height="265.4" filter="url(#nCb)" opacity="0.95"/></g>
<g mask="url(#mPb)"><rect x="967.7" y="1406.2" width="346.6" height="265.4" fill="#03062e" opacity="0.97"/><rect x="967.7" y="1406.2" width="346.6" height="265.4" filter="url(#nBb)"/></g>
<g mask="url(#mPd2)"><rect x="967.7" y="1406.2" width="346.6" height="265.4" fill="#010502" opacity="0.9"/></g>
</g>
<text x="984.5" y="1432.3" font-size="22.3" style="fill:#fff">PP@Pt-OVA</text>
<rect x="1277.3" y="1656.6" width="25.2" height="3.8" fill="#fff"/>
</svg>
</body>
</html>
